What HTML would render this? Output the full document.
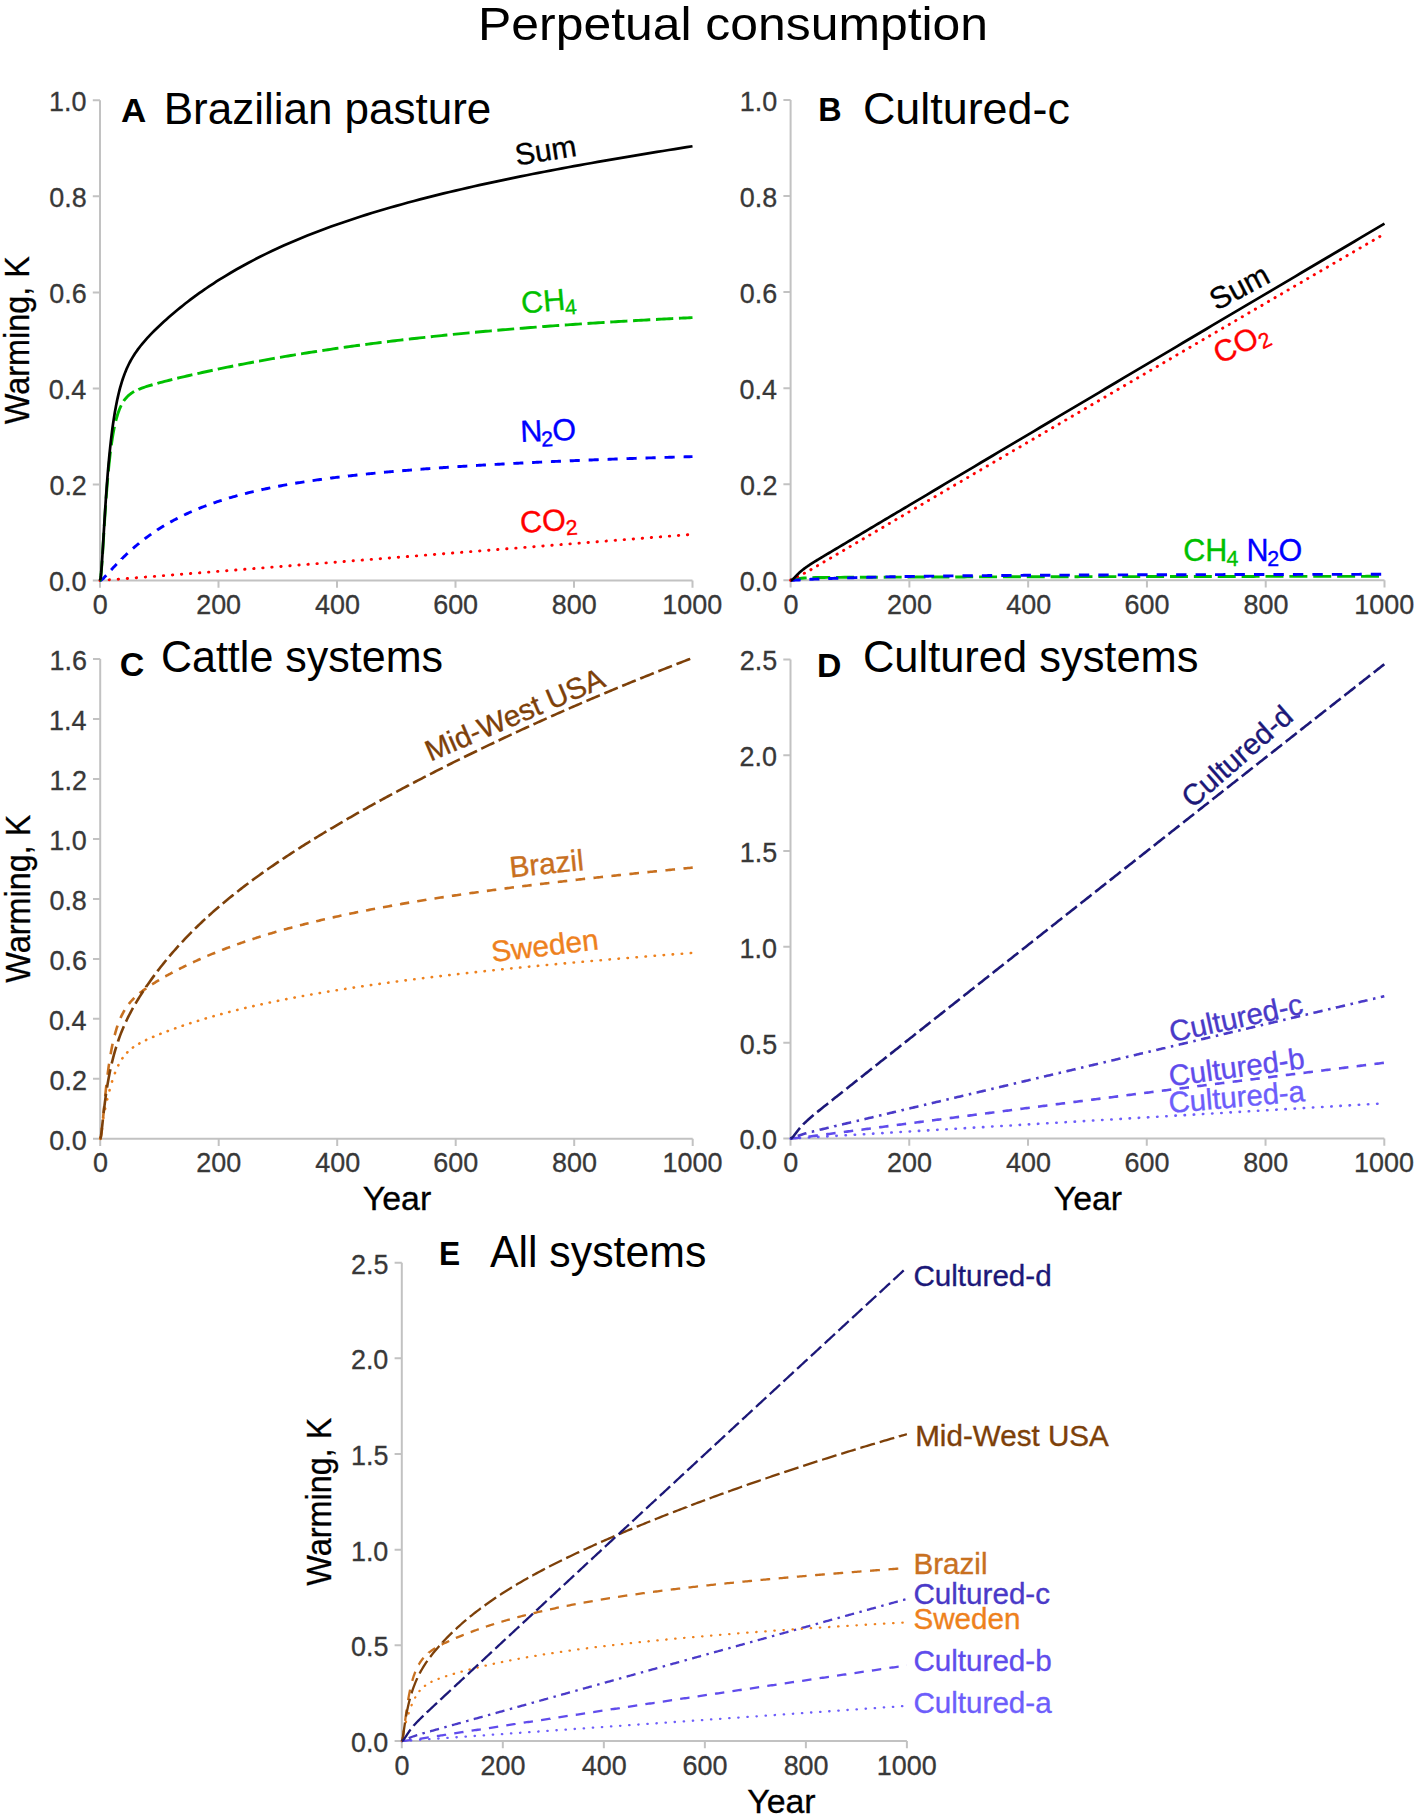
<!DOCTYPE html>
<html lang="en"><head><meta charset="utf-8"><title>Perpetual consumption</title>
<style>html,body{margin:0;padding:0;background:#fff}svg{display:block}text{white-space:pre}</style>
</head><body>
<svg width="1418" height="1818" viewBox="0 0 1418 1818" role="img" aria-label="Perpetual consumption: warming over time for cattle and cultured meat systems">
<rect width="1418" height="1818" fill="#fff"/>
<path d="M100 100.3 V580.5 H692.5 M92.8 580.5 H100 M92.8 484.46 H100 M92.8 388.42 H100 M92.8 292.38 H100 M92.8 196.34 H100 M92.8 100.3 H100 M100 580.5 V587.7 M218.5 580.5 V587.7 M337 580.5 V587.7 M455.5 580.5 V587.7 M574 580.5 V587.7 M692.5 580.5 V587.7" fill="none" stroke="#c2c2c2" stroke-width="2"/>
<path d="M100 580.5 100.06 580.49 100.12 580.47 100.18 580.46 100.24 580.45 100.3 580.44 100.34 580.43M109.07 579.84 109.12 579.84 109.18 579.83 109.24 579.83 109.3 579.83 109.36 579.82 109.42 579.82 109.45 579.82M118.15 579.19 118.19 579.19 118.25 579.18 118.31 579.18 118.37 579.17 118.43 579.17 118.49 579.17 118.53 579.16M127.19 578.49 127.2 578.49 127.25 578.49 127.31 578.48 127.37 578.48 127.43 578.47 127.49 578.47 127.55 578.46 127.57 578.46M136.23 577.79 136.26 577.78 136.32 577.78 136.38 577.77 136.44 577.77 136.5 577.76 136.56 577.76 136.61 577.76M145.26 577.08 145.27 577.08 145.33 577.07 145.39 577.07 145.44 577.06 145.5 577.06 145.56 577.05 145.62 577.05 145.64 577.05M154.3 576.37 154.51 576.35 154.67 576.34M163.33 575.66 163.4 575.66 163.69 575.63 163.7 575.63M172.36 574.95 172.58 574.93 172.74 574.92M181.39 574.24 181.47 574.24 181.76 574.21 181.77 574.21M190.43 573.54 190.65 573.52 190.8 573.51M199.46 572.83 199.54 572.82 199.84 572.8 199.84 572.8M208.5 572.12 208.72 572.1 208.87 572.09M217.53 571.41 217.61 571.4 217.91 571.38M226.56 570.7 226.8 570.69 226.94 570.67M235.6 570 235.68 569.99 235.97 569.97M244.63 569.29 244.87 569.27 245.01 569.26M253.66 568.58 253.75 568.57 254.04 568.55M262.7 567.87 262.94 567.85 263.07 567.84M271.73 567.17 271.82 567.16 272.11 567.14M280.77 566.46 281.01 566.44 281.14 566.43M289.8 565.75 289.9 565.74 290.18 565.72M298.84 565.04 299.08 565.03 299.21 565.02M307.87 564.34 307.97 564.33 308.25 564.31M316.9 563.63 317.15 563.61 317.28 563.6M325.94 562.92 326.04 562.92 326.32 562.89M334.97 562.22 335.22 562.2 335.35 562.19M344.01 561.51 344.11 561.5 344.39 561.48M353.04 560.8 353.29 560.79 353.42 560.78M362.08 560.1 362.18 560.09 362.46 560.07M371.11 559.39 371.37 559.37 371.49 559.36M380.15 558.69 380.25 558.68 380.53 558.66M389.18 557.98 389.44 557.96 389.56 557.95M398.22 557.27 398.32 557.27 398.6 557.24M407.25 556.57 407.51 556.55 407.63 556.54M416.29 555.86 416.39 555.85 416.67 555.83M425.33 555.16 425.58 555.14 425.7 555.13M434.36 554.45 434.47 554.44 434.74 554.42M443.4 553.75 443.65 553.73 443.77 553.72M452.43 553.04 452.54 553.03 452.81 553.01M461.47 552.34 461.72 552.32 461.84 552.31M470.5 551.63 470.61 551.62 470.88 551.6M479.54 550.93 479.79 550.91 479.92 550.9M488.58 550.22 488.68 550.21 488.95 550.19M497.61 549.52 497.86 549.5 497.99 549.49M506.65 548.81 506.75 548.8 507.03 548.78M515.69 548.11 515.93 548.09 516.06 548.08M524.72 547.4 524.82 547.39 525.1 547.37M533.76 546.7 534.01 546.68 534.13 546.67M542.79 545.99 542.89 545.99 543.17 545.96M551.83 545.29 552.08 545.27 552.21 545.26M560.87 544.59 560.96 544.58 561.24 544.56M569.9 543.88 570.15 543.86 570.28 543.85M578.94 543.18 579.04 543.17 579.32 543.15M587.98 542.47 588.22 542.45 588.36 542.44M597.02 541.77 597.11 541.76 597.39 541.74M606.05 541.07 606.29 541.05 606.43 541.04M615.09 540.36 615.18 540.36 615.47 540.33M624.13 539.66 624.36 539.64 624.5 539.63M633.16 538.96 633.25 538.95 633.54 538.93M642.2 538.25 642.43 538.23 642.58 538.22M651.24 537.55 651.32 537.54 651.62 537.52M660.28 536.85 660.5 536.83 660.65 536.82M669.32 536.14 669.39 536.14 669.69 536.11 669.69 536.11M678.35 535.44 678.58 535.42 678.73 535.41M687.39 534.74 687.46 534.73 687.76 534.71 687.77 534.71" fill="none" stroke="#ff0000" stroke-width="2.9" stroke-linejoin="round" stroke-linecap="round"/>
<path d="M100 580.5 100.06 580.5 101.07 580.19 102.07 579.51 103.08 578.62 104.09 577.61 105.1 576.54 106.1 575.45 106.24 575.3M111.09 569.99 111.14 569.94 112.03 568.98 112.92 568.03 113.81 567.08 114.69 566.14 115.58 565.21 116.47 564.28 116.72 564.02M121.74 558.92 121.74 558.91 122.69 557.97 123.64 557.05 124.59 556.13 125.54 555.22 126.48 554.32 127.43 553.43 127.61 553.26M132.89 548.49 132.94 548.45 133.95 547.57 134.96 546.7 135.96 545.85 136.97 545 137.98 544.17 138.99 543.35 139.1 543.25M144.69 538.87 144.73 538.83 145.27 538.43 145.8 538.03 146.33 537.63 146.87 537.24 147.4 536.85 150.07 534.92 151.26 534.08M157.17 530.09 157.18 530.08 158.36 529.31 159.55 528.56 160.73 527.81 161.92 527.08 163.1 526.35 164.1 525.75M170.32 522.15 170.51 522.04 171.69 521.38 172.88 520.74 174.06 520.1 175.25 519.47 176.43 518.85 177.6 518.24M184.11 515.02 184.13 515.01 185.32 514.44 186.5 513.89 187.69 513.34 188.88 512.8 190.06 512.27 191.25 511.74 191.73 511.53M198.53 508.66 198.65 508.61 199.84 508.13 201.02 507.65 202.21 507.19 203.39 506.73 204.58 506.27 205.76 505.82 206.45 505.56M213.51 503.02 213.76 502.93 214.94 502.52 216.13 502.12 217.31 501.72 218.5 501.32 219.69 500.94 220.87 500.55 221.72 500.28M229.02 498.03 229.16 497.98 230.35 497.63 231.53 497.29 232.72 496.95 233.91 496.61 235.09 496.28 236.28 495.95 237.46 495.62 237.49 495.61M245 493.63 245.16 493.59 246.35 493.29 247.53 492.99 248.72 492.69 249.9 492.4 251.09 492.12 252.27 491.83 253.46 491.55 253.7 491.5M261.4 489.75 261.46 489.73 262.94 489.41 264.42 489.09 265.9 488.78 267.38 488.46 268.86 488.16 270.29 487.87M278.15 486.32 278.34 486.28 279.82 486 281.31 485.73 282.79 485.45 284.27 485.18 285.75 484.92 287.22 484.66M295.23 483.29 295.23 483.29 296.71 483.04 298.19 482.8 299.67 482.56 301.15 482.32 302.63 482.09 304.12 481.86 304.45 481.81M312.57 480.59 312.71 480.57 314.19 480.36 315.67 480.14 317.15 479.93 318.63 479.73 320.11 479.52 321.6 479.32 321.92 479.27M330.15 478.19 330.19 478.18 331.67 477.99 333.15 477.8 334.63 477.62 336.11 477.43 337.59 477.25 339.07 477.07 339.61 477.01M347.92 476.03 347.96 476.02 349.44 475.86 350.92 475.69 352.4 475.52 353.89 475.36 355.37 475.2 356.85 475.04 357.47 474.97M365.87 474.09 366.03 474.07 367.51 473.92 369 473.77 370.48 473.62 371.96 473.47 373.44 473.33 374.92 473.18 375.5 473.12M383.96 472.32 384.1 472.31 385.58 472.17 387.07 472.04 388.55 471.9 390.03 471.77 391.51 471.64 392.99 471.51 393.66 471.45M402.18 470.72 402.47 470.69 403.95 470.57 405.43 470.45 406.92 470.33 408.4 470.21 409.88 470.09 411.36 469.97 411.94 469.92M420.5 469.25 420.54 469.25 422.02 469.14 423.5 469.02 424.99 468.91 426.47 468.8 427.95 468.69 429.43 468.58 430.31 468.52M438.92 467.9 439.21 467.88 440.69 467.78 442.17 467.68 443.65 467.57 445.13 467.47 446.61 467.37 448.09 467.27 448.78 467.23M457.43 466.66 457.57 466.65 459.06 466.55 460.54 466.46 462.02 466.36 463.5 466.27 464.98 466.18 466.46 466.08 467.33 466.03M476 465.5 476.24 465.49 477.72 465.4 479.2 465.31 480.68 465.23 482.16 465.14 483.64 465.06 485.12 464.97 485.94 464.92M494.65 464.43 494.9 464.42 496.38 464.34 497.86 464.26 499.35 464.18 500.83 464.1 502.31 464.02 503.79 463.94 504.61 463.89M513.35 463.44 513.57 463.42 515.05 463.35 516.53 463.27 518.01 463.2 519.49 463.12 520.97 463.05 522.45 462.98 523.35 462.93M532.1 462.5 532.23 462.5 533.71 462.43 535.19 462.36 536.67 462.29 538.15 462.22 539.63 462.15 541.12 462.08 542.13 462.03M550.91 461.63 551.19 461.62 552.67 461.56 554.15 461.49 555.63 461.42 557.11 461.36 558.6 461.29 560.08 461.23 560.95 461.19M569.75 460.82 569.85 460.81 571.33 460.75 572.82 460.69 574.3 460.63 575.78 460.57 577.26 460.51 578.74 460.45 579.82 460.4M588.64 460.05 588.81 460.05 590.29 459.99 591.77 459.93 593.26 459.87 594.74 459.82 596.22 459.76 597.7 459.7 598.73 459.66M607.57 459.33 607.77 459.33 609.25 459.27 610.74 459.22 612.22 459.16 613.7 459.11 615.18 459.06 616.66 459 617.67 458.97M626.53 458.66 626.73 458.65 628.21 458.6 629.7 458.55 631.18 458.5 632.66 458.45 634.14 458.4 635.62 458.35 636.65 458.31M645.52 458.02 645.69 458.02 647.17 457.97 648.65 457.92 650.14 457.87 651.62 457.83 653.1 457.78 654.58 457.73 655.66 457.7M664.54 457.42 664.65 457.42 666.13 457.37 667.62 457.33 669.1 457.29 670.58 457.24 672.06 457.2 673.54 457.15 674.69 457.12M683.59 456.86 683.61 456.86 685.09 456.82 686.58 456.77 688.06 456.73 689.54 456.69 691.02 456.65 692.5 456.61" fill="none" stroke="#0000ff" stroke-width="2.9" stroke-linejoin="round"/>
<path d="M100 580.5 100.06 580.48 100.36 579.7 100.65 577.98 100.95 575.48 101.24 572.36 101.54 568.75 101.84 564.74 102.12 560.65M102.56 553.83 102.61 553.13 102.78 550.3 102.96 547.43 103.14 544.55 103.32 541.65 103.5 538.75 103.67 535.85 103.85 532.96 103.85 532.94M104.28 526.1 104.33 525.33 104.5 522.51 104.68 519.72 104.86 516.96 105.04 514.24 105.21 511.56 105.39 508.91 105.57 506.31 105.64 505.3M106.12 498.52 106.16 497.94 106.4 494.73 106.64 491.6 106.87 488.55 107.11 485.59 107.35 482.7 107.58 479.89 107.74 478.05M108.34 471.43 108.35 471.31 108.71 467.62 109.07 464.1 109.42 460.73 109.78 457.51 110.13 454.44 110.48 451.6M111.31 445.26 111.32 445.2 111.85 441.49 112.38 438.04 112.92 434.83 113.45 431.83 113.98 429.04 114.46 426.7M115.78 420.97 115.82 420.81 116.71 417.49 117.6 414.52 118.49 411.88 119.37 409.51 120.26 407.4 121.15 405.5 121.25 405.31M123.73 401.03 123.76 400.98 125.48 398.67 127.2 396.75 128.91 395.15 130.63 393.79 132.35 392.62 134.07 391.6 134.14 391.56M138.4 389.5 138.45 389.47 140.11 388.79 141.77 388.16 143.43 387.57 145.09 387 146.75 386.47 152.44 384.75 152.57 384.71M157.39 383.37 157.47 383.34 159.84 382.7 162.21 382.08 164.58 381.46 166.95 380.85 169.32 380.26 171.69 379.66 172.31 379.51M177.24 378.3 177.32 378.28 179.69 377.71 182.06 377.15 184.43 376.59 186.8 376.03 189.17 375.48 191.54 374.93 192.39 374.74M197.39 373.61 197.47 373.59 199.84 373.06 202.21 372.53 204.58 372.01 206.95 371.49 209.32 370.98 211.69 370.47 212.7 370.25M217.75 369.19 217.91 369.15 220.28 368.66 222.65 368.16 225.02 367.68 227.39 367.19 229.76 366.71 232.13 366.24 233.21 366.02M238.31 365.01 238.35 365 240.72 364.54 243.09 364.08 245.46 363.62 247.83 363.17 250.2 362.72 252.57 362.27 253.91 362.02M259.05 361.06 259.09 361.06 261.75 360.57 264.42 360.09 267.09 359.61 269.75 359.13 272.42 358.66 274.79 358.24M279.97 357.34 280.12 357.32 282.79 356.86 285.45 356.41 288.12 355.96 290.78 355.51 293.45 355.07 295.84 354.68M301.06 353.83 301.15 353.82 303.82 353.39 306.49 352.97 309.15 352.55 311.82 352.13 314.49 351.72 317.06 351.32M322.32 350.52 322.48 350.5 325.15 350.1 327.82 349.7 330.48 349.31 333.15 348.92 335.81 348.53 338.43 348.16M343.73 347.41 343.81 347.4 346.48 347.02 349.15 346.65 351.81 346.28 354.48 345.92 357.14 345.56 359.81 345.2 359.95 345.18M365.28 344.48 365.44 344.46 368.11 344.11 370.77 343.76 373.44 343.42 376.11 343.08 378.77 342.74 381.44 342.41 381.61 342.39M386.98 341.72 387.07 341.71 389.73 341.39 392.4 341.06 395.06 340.74 397.73 340.43 400.4 340.11 403.06 339.8 403.41 339.76M408.81 339.13 408.99 339.11 411.65 338.81 414.32 338.51 416.99 338.21 419.65 337.91 422.32 337.62 424.99 337.33 425.33 337.29M430.76 336.71 430.91 336.69 433.58 336.41 436.24 336.12 438.91 335.85 441.58 335.57 444.24 335.3 446.91 335.02 447.38 334.98M452.84 334.43 453.13 334.4 455.8 334.13 458.46 333.87 461.13 333.61 463.8 333.35 466.46 333.1 469.13 332.84 469.54 332.8M475.03 332.29 475.05 332.29 477.72 332.04 480.38 331.8 483.05 331.55 485.72 331.31 488.38 331.07 491.05 330.84 491.82 330.77M497.33 330.29 497.57 330.27 500.23 330.04 502.9 329.81 505.57 329.58 508.23 329.36 510.9 329.14 513.57 328.92 514.19 328.86M519.73 328.41 519.79 328.41 522.45 328.19 525.12 327.98 527.79 327.77 530.45 327.56 533.12 327.35 535.78 327.15 536.66 327.08M542.23 326.66 542.3 326.65 544.97 326.45 547.63 326.25 550.3 326.06 552.97 325.86 555.63 325.67 558.3 325.48 559.23 325.41M564.81 325.02 564.82 325.02 567.48 324.83 570.15 324.64 572.82 324.46 575.48 324.28 578.15 324.1 580.81 323.92 581.88 323.85M587.48 323.48 587.63 323.47 590.29 323.3 592.96 323.13 595.63 322.95 598.29 322.79 600.96 322.62 603.62 322.45 604.61 322.39M610.24 322.04 610.44 322.03 613.11 321.87 615.77 321.71 618.44 321.55 621.1 321.39 623.77 321.24 626.44 321.08 627.42 321.03M633.06 320.7 633.25 320.69 635.92 320.54 638.58 320.39 641.25 320.25 643.91 320.1 646.58 319.95 649.25 319.81 650.3 319.75M655.96 319.45 656.06 319.45 658.73 319.31 661.39 319.17 664.06 319.03 666.73 318.89 669.39 318.76 672.06 318.62 673.25 318.56M678.93 318.28 679.17 318.27 681.24 318.17 683.32 318.07 685.39 317.97 687.46 317.87 689.54 317.77 691.61 317.67 692.5 317.63" fill="none" stroke="#00c000" stroke-width="2.9" stroke-linejoin="round"/>
<path d="M100 580.5 L100.59 578.29 L101.19 572.68 L101.78 564.91 L102.37 555.84 L102.96 546.08 L103.56 536.08 L104.15 526.12 L104.74 516.39 L105.33 507.01 L105.92 498.07 L106.52 489.59 L107.11 481.58 L107.7 474.05 L108.3 466.97 L108.89 460.34 L109.48 454.11 L110.07 448.27 L110.66 442.79 L111.26 437.65 L111.85 432.82 L112.44 428.27 L113.03 424 L113.63 419.97 L114.22 416.17 L114.81 412.58 L115.41 409.19 L116 405.99 L116.59 402.95 L117.18 400.07 L117.78 397.34 L118.37 394.75 L118.96 392.29 L119.55 389.95 L120.14 387.72 L120.74 385.59 L121.33 383.57 L121.92 381.63 L122.52 379.78 L123.11 378.01 L123.7 376.32 L124.29 374.7 L124.89 373.14 L125.48 371.64 L126.07 370.21 L126.66 368.82 L127.25 367.49 L127.85 366.21 L128.44 364.97 L129.03 363.77 L129.62 362.61 L130.22 361.49 L130.81 360.4 L131.4 359.35 L132 358.32 L132.59 357.32 L133.18 356.35 L133.77 355.41 L134.37 354.48 L134.96 353.58 L135.55 352.7 L137.92 349.36 L140.29 346.26 L142.66 343.34 L145.03 340.58 L147.4 337.93 L149.77 335.39 L152.14 332.93 L154.51 330.54 L156.88 328.21 L159.25 325.93 L161.62 323.71 L163.99 321.53 L166.36 319.39 L168.73 317.29 L171.1 315.23 L173.47 313.2 L175.84 311.21 L178.21 309.25 L180.58 307.33 L182.95 305.43 L185.32 303.56 L187.69 301.73 L190.06 299.92 L192.43 298.14 L194.8 296.39 L197.17 294.66 L199.54 292.96 L201.91 291.29 L204.28 289.64 L206.65 288.01 L209.02 286.41 L211.39 284.83 L213.76 283.28 L216.13 281.74 L218.5 280.23 L224.43 276.54 L230.35 272.97 L236.28 269.53 L242.2 266.2 L248.12 262.97 L254.05 259.85 L259.98 256.82 L265.9 253.89 L271.82 251.04 L277.75 248.28 L283.68 245.59 L289.6 242.99 L295.52 240.45 L301.45 237.99 L307.38 235.59 L313.3 233.25 L319.23 230.97 L325.15 228.76 L331.07 226.59 L337 224.48 L342.93 222.42 L348.85 220.41 L354.77 218.45 L360.7 216.53 L366.62 214.65 L372.55 212.81 L378.48 211.01 L384.4 209.25 L390.32 207.53 L396.25 205.84 L402.18 204.19 L408.1 202.56 L414.02 200.97 L419.95 199.41 L425.88 197.87 L431.8 196.36 L437.73 194.88 L443.65 193.43 L449.57 191.99 L455.5 190.58 L461.43 189.2 L467.35 187.83 L473.27 186.49 L479.2 185.17 L485.12 183.86 L491.05 182.58 L496.98 181.31 L502.9 180.06 L508.82 178.82 L514.75 177.61 L520.67 176.4 L526.6 175.21 L532.52 174.04 L538.45 172.88 L544.38 171.73 L550.3 170.6 L556.23 169.48 L562.15 168.37 L568.08 167.27 L574 166.18 L579.92 165.11 L585.85 164.04 L591.77 162.98 L597.7 161.94 L603.62 160.9 L609.55 159.87 L615.48 158.85 L621.4 157.84 L627.33 156.83 L633.25 155.83 L639.17 154.84 L645.1 153.86 L651.02 152.89 L656.95 151.92 L662.88 150.96 L668.8 150 L674.73 149.05 L680.65 148.1 L686.58 147.17 L692.5 146.23" fill="none" stroke="#000" stroke-width="2.7" stroke-linejoin="round"/>
<path d="M790.6 100 V580.3 H1384.5 M783.4 580.3 H790.6 M783.4 484.24 H790.6 M783.4 388.18 H790.6 M783.4 292.12 H790.6 M783.4 196.06 H790.6 M783.4 100 H790.6 M790.6 580.3 V587.5 M909.38 580.3 V587.5 M1028.16 580.3 V587.5 M1146.94 580.3 V587.5 M1265.72 580.3 V587.5 M1384.5 580.3 V587.5" fill="none" stroke="#c2c2c2" stroke-width="2"/>
<path d="M790.6 580.3 790.66 580.3 793.33 579.86 796 579.21 798.68 578.69 801.35 578.31 804.02 578.05 806.65 577.86M812.36 577.63 812.4 577.63 815.37 577.56 818.34 577.5 821.3 577.47 824.27 577.44 827.24 577.41 830.18 577.39M836.05 577.36 836.09 577.36 836.92 577.36 837.76 577.35 840.49 577.34 844.64 577.32 848.8 577.31 852.96 577.29 853.99 577.28M859.87 577.26 860.09 577.26 863.06 577.25 866.03 577.24 868.99 577.23 871.96 577.22 874.93 577.21 877.82 577.2M883.7 577.18 883.84 577.18 886.81 577.16 889.78 577.15 892.75 577.14 895.72 577.13 898.69 577.13 901.65 577.12M907.54 577.1 907.6 577.1 910.57 577.09 913.54 577.08 916.51 577.07 919.48 577.06 922.45 577.05 925.42 577.04 925.49 577.04M931.38 577.02 931.65 577.02 934.62 577.01 937.59 577 940.56 577 943.53 576.99 946.5 576.98 949.34 576.97M955.22 576.96 955.41 576.95 958.38 576.95 961.35 576.94 964.32 576.93 967.29 576.92 970.25 576.92 973.19 576.91M979.07 576.89 979.16 576.89 982.13 576.88 985.1 576.88 988.07 576.87 991.04 576.86 994.01 576.86 996.98 576.85 997.04 576.85M1002.93 576.83 1003.22 576.83 1006.19 576.83 1009.16 576.82 1012.12 576.81 1015.09 576.81 1018.06 576.8 1020.89 576.79M1026.78 576.78 1026.97 576.78 1029.94 576.77 1032.91 576.77 1035.88 576.76 1038.85 576.75 1041.82 576.75 1044.75 576.74M1050.64 576.73 1050.73 576.73 1053.7 576.72 1056.67 576.72 1059.64 576.71 1062.61 576.71 1065.58 576.7 1068.55 576.69 1068.62 576.69M1074.51 576.68 1074.78 576.68 1077.75 576.68 1080.72 576.67 1083.69 576.67 1086.66 576.66 1089.63 576.66 1092.48 576.65M1098.37 576.64 1098.54 576.64 1101.51 576.63 1104.48 576.63 1107.45 576.62 1110.42 576.62 1113.38 576.61 1116.35 576.61M1122.24 576.6 1122.29 576.6 1125.26 576.59 1128.23 576.59 1131.2 576.59 1134.17 576.58 1137.14 576.58 1140.11 576.57 1140.22 576.57M1146.11 576.56 1146.35 576.56 1149.32 576.56 1152.29 576.55 1155.25 576.55 1158.22 576.54 1161.19 576.54 1164.09 576.54M1169.98 576.53 1170.1 576.53 1173.07 576.52 1176.04 576.52 1179.01 576.52 1181.98 576.51 1184.95 576.51 1187.92 576.5 1187.96 576.5M1193.86 576.5 1193.86 576.5 1196.83 576.49 1199.8 576.49 1202.77 576.48 1205.74 576.48 1208.71 576.48 1211.68 576.47 1211.84 576.47M1217.73 576.47 1217.91 576.47 1220.88 576.46 1223.85 576.46 1226.82 576.46 1229.79 576.45 1232.76 576.45 1235.72 576.45M1241.61 576.44 1241.67 576.44 1244.64 576.44 1247.61 576.43 1250.58 576.43 1253.55 576.43 1256.51 576.42 1259.48 576.42 1259.6 576.42M1265.49 576.41 1265.72 576.41 1268.69 576.41 1271.66 576.41 1274.63 576.4 1277.6 576.4 1280.57 576.4 1283.48 576.4M1289.37 576.39 1289.48 576.39 1292.45 576.39 1295.41 576.38 1298.38 576.38 1301.35 576.38 1304.32 576.38 1307.29 576.37 1307.36 576.37M1313.25 576.37 1313.53 576.37 1316.5 576.36 1319.47 576.36 1322.44 576.36 1325.41 576.36 1328.38 576.35 1331.24 576.35M1337.14 576.35 1337.28 576.35 1340.25 576.34 1343.22 576.34 1346.19 576.34 1349.16 576.34 1352.13 576.33 1355.1 576.33 1355.13 576.33M1361.02 576.33 1361.04 576.33 1364.01 576.33 1366.98 576.32 1369.95 576.32 1372.92 576.32 1375.89 576.32 1378.86 576.31 1379.01 576.31" fill="none" stroke="#00c000" stroke-width="2.9" stroke-linejoin="round"/>
<path d="M790.6 580.3 790.66 580.3 792.32 580.27 793.99 580.19 795.65 580.11 797.31 580.02 798.97 579.93 800.64 579.85 800.64 579.85M809.38 579.4 809.43 579.4 811.09 579.32 812.75 579.24 814.42 579.16 816.08 579.08 817.74 579 819.4 578.93M828.2 578.56 828.25 578.55 829.86 578.49 831.46 578.43 833.06 578.37 834.67 578.31 836.27 578.25 837.87 578.19 838.3 578.18M847.16 577.88 847.32 577.87 848.8 577.83 850.29 577.78 851.77 577.73 853.26 577.69 854.74 577.65 856.23 577.6 857.32 577.57M866.23 577.33 866.32 577.33 867.81 577.29 869.29 577.26 870.78 577.22 872.26 577.19 873.75 577.15 875.23 577.12 876.43 577.09M885.38 576.89 885.62 576.89 887.11 576.86 888.59 576.83 890.08 576.8 891.56 576.77 893.05 576.74 894.53 576.72 895.62 576.7M904.59 576.54 904.63 576.54 906.11 576.51 907.6 576.49 909.08 576.46 910.57 576.44 912.05 576.42 913.54 576.39 914.86 576.37M923.85 576.24 923.93 576.24 925.42 576.22 926.9 576.2 928.38 576.18 929.87 576.16 931.35 576.14 932.84 576.12 934.15 576.11M943.16 576 943.23 576 944.72 575.98 946.2 575.96 947.69 575.95 949.17 575.93 950.66 575.92 952.14 575.9 953.47 575.89M962.5 575.79 962.53 575.79 964.02 575.78 965.5 575.77 966.99 575.75 968.47 575.74 969.96 575.72 971.44 575.71 972.82 575.7M981.86 575.62 982.13 575.62 983.62 575.61 985.1 575.59 986.59 575.58 988.07 575.57 989.56 575.56 991.04 575.55 992.19 575.54M1001.24 575.47 1001.43 575.47 1002.92 575.46 1004.4 575.45 1005.89 575.44 1007.37 575.43 1008.86 575.42 1010.34 575.41 1011.58 575.4M1020.63 575.34 1020.74 575.34 1022.22 575.33 1023.71 575.32 1025.19 575.31 1026.68 575.3 1028.16 575.29 1029.64 575.29 1030.98 575.28M1040.04 575.23 1040.33 575.22 1041.82 575.22 1043.3 575.21 1044.79 575.2 1046.27 575.19 1047.76 575.18 1049.24 575.18 1050.4 575.17M1059.46 575.13 1059.64 575.12 1061.12 575.12 1062.61 575.11 1064.09 575.1 1065.58 575.1 1067.06 575.09 1068.55 575.08 1069.82 575.08M1078.89 575.04 1078.94 575.04 1080.42 575.03 1081.91 575.02 1083.39 575.02 1084.88 575.01 1086.36 575 1087.85 575 1089.25 574.99M1098.32 574.95 1098.54 574.95 1100.02 574.95 1101.51 574.94 1102.99 574.94 1104.48 574.93 1105.96 574.92 1107.45 574.92 1108.69 574.91M1117.76 574.88 1117.84 574.88 1119.32 574.88 1120.81 574.87 1122.29 574.86 1123.78 574.86 1125.26 574.85 1126.75 574.85 1128.14 574.84M1137.21 574.81 1137.44 574.81 1138.92 574.81 1140.41 574.8 1141.89 574.8 1143.38 574.79 1144.86 574.79 1146.35 574.78 1147.58 574.78M1156.66 574.75 1156.74 574.75 1158.22 574.75 1159.71 574.74 1161.19 574.74 1162.68 574.73 1164.16 574.73 1165.65 574.73 1167.04 574.72M1176.12 574.7 1176.34 574.7 1177.82 574.69 1179.31 574.69 1180.79 574.68 1182.28 574.68 1183.76 574.68 1185.25 574.67 1186.49 574.67M1195.58 574.64 1195.64 574.64 1197.12 574.64 1198.61 574.64 1200.09 574.63 1201.58 574.63 1203.06 574.63 1204.55 574.62 1205.95 574.62M1215.04 574.6 1215.24 574.6 1216.72 574.59 1218.21 574.59 1219.69 574.58 1221.18 574.58 1222.66 574.58 1224.15 574.57 1225.42 574.57M1234.5 574.55 1234.54 574.55 1236.03 574.55 1237.51 574.54 1238.99 574.54 1240.48 574.54 1241.96 574.53 1243.45 574.53 1244.88 574.53M1253.97 574.51 1254.14 574.51 1255.62 574.51 1257.11 574.5 1258.59 574.5 1260.08 574.5 1261.56 574.49 1263.05 574.49 1264.35 574.49M1273.44 574.47 1273.44 574.47 1274.93 574.47 1276.41 574.46 1277.89 574.46 1279.38 574.46 1280.86 574.46 1282.35 574.45 1283.82 574.45M1292.91 574.43 1293.04 574.43 1294.52 574.43 1296.01 574.43 1297.49 574.42 1298.98 574.42 1300.46 574.42 1301.95 574.42 1303.29 574.41M1312.38 574.4 1312.64 574.4 1314.12 574.4 1315.61 574.39 1317.09 574.39 1318.58 574.39 1320.06 574.39 1321.55 574.38 1322.77 574.38M1331.85 574.37 1331.94 574.37 1333.42 574.36 1334.91 574.36 1336.39 574.36 1337.88 574.36 1339.36 574.35 1340.85 574.35 1342.24 574.35M1351.33 574.34 1351.54 574.34 1353.02 574.33 1354.51 574.33 1355.99 574.33 1357.48 574.33 1358.96 574.33 1360.45 574.32 1361.72 574.32M1370.81 574.31 1370.84 574.31 1372.33 574.31 1373.81 574.3 1375.29 574.3 1376.78 574.3 1378.26 574.3 1379.75 574.3 1381.19 574.29" fill="none" stroke="#0000ff" stroke-width="2.9" stroke-linejoin="round"/>
<path d="M790.6 580.3 790.66 580.21 790.72 580.12 790.78 580.04 790.78 580.03M797.34 576.73 797.37 576.72 797.43 576.69 797.49 576.67 797.55 576.64 797.61 576.61 797.64 576.6M804.22 573.32 804.26 573.3 804.32 573.27 804.38 573.23 804.44 573.2 804.5 573.17M810.84 569.6 810.85 569.59 810.91 569.56 810.97 569.53 811.03 569.49 811.09 569.46 811.11 569.44M817.4 565.79 817.44 565.77 817.5 565.73 817.56 565.7 817.62 565.66 817.67 565.63M823.93 561.96 823.98 561.94 824.04 561.9 824.1 561.87 824.16 561.83 824.2 561.8M830.46 558.13 830.51 558.1 830.57 558.06 830.63 558.03 830.69 557.99 830.73 557.97M836.99 554.29 837.04 554.26 837.1 554.22 837.16 554.19 837.22 554.15 837.26 554.13M843.52 550.45 843.75 550.31 843.79 550.29M850.05 546.61 850.29 546.47 850.32 546.45M856.58 542.77 856.82 542.63 856.85 542.61M863.11 538.94 863.35 538.79 863.38 538.78M869.64 535.1 869.89 534.95 869.91 534.94M876.17 531.26 876.42 531.11 876.44 531.1M882.7 527.42 882.95 527.27 882.97 527.26M889.23 523.59 889.48 523.43 889.5 523.43M895.76 519.75 896.02 519.6 896.03 519.59M902.29 515.91 902.55 515.76 902.56 515.75M908.82 512.08 909.08 511.92 909.09 511.92M915.35 508.24 915.62 508.08 915.62 508.08M921.88 504.4 922.15 504.25 922.16 504.24M928.41 500.57 928.68 500.41 928.69 500.41M934.95 496.73 935.21 496.58 935.22 496.57M941.48 492.9 941.75 492.74 941.75 492.74M948.01 489.06 948.28 488.91 948.28 488.9M954.54 485.23 954.81 485.07 954.82 485.07M961.08 481.4 961.35 481.24 961.35 481.24M967.61 477.56 967.88 477.4 967.88 477.4M974.14 473.73 974.41 473.57 974.42 473.57M980.68 469.9 980.94 469.74 980.95 469.74M987.21 466.06 987.48 465.91 987.48 465.9M993.74 462.23 994.01 462.08 994.02 462.07M1000.28 458.4 1000.54 458.24 1000.55 458.24M1006.81 454.57 1007.08 454.41 1007.09 454.41M1013.35 450.74 1013.61 450.58 1013.62 450.58M1019.88 446.9 1020.14 446.75 1020.16 446.74M1026.42 443.07 1026.68 442.92 1026.69 442.91M1032.95 439.24 1033.21 439.09 1033.23 439.08M1039.49 435.41 1039.74 435.26 1039.76 435.25M1046.03 431.58 1046.27 431.44 1046.3 431.42M1052.56 427.75 1052.81 427.61 1052.83 427.59M1059.1 423.92 1059.34 423.78 1059.37 423.76M1065.63 420.09 1065.87 419.95 1065.91 419.93M1072.17 416.26 1072.41 416.13 1072.44 416.1M1078.71 412.44 1078.94 412.3 1078.98 412.28M1085.25 408.61 1085.47 408.47 1085.52 408.45M1091.78 404.78 1092 404.65 1092.06 404.62M1098.32 400.95 1098.54 400.82 1098.59 400.79M1104.86 397.12 1105.07 397 1105.13 396.96M1111.4 393.3 1111.6 393.17 1111.67 393.14M1117.93 389.47 1118.14 389.35 1118.21 389.31M1124.47 385.64 1124.67 385.53 1124.75 385.48M1131.01 381.82 1131.2 381.7 1131.28 381.66M1137.55 377.99 1137.73 377.88 1137.82 377.83M1144.09 374.16 1144.27 374.06 1144.36 374M1150.63 370.34 1150.8 370.24 1150.9 370.18M1157.17 366.51 1157.33 366.42 1157.44 366.35M1163.71 362.69 1163.87 362.6 1163.98 362.53M1170.25 358.86 1170.4 358.78 1170.52 358.7M1176.79 355.04 1176.93 354.96 1177.06 354.88M1183.33 351.21 1183.46 351.14 1183.6 351.06M1189.87 347.39 1190 347.32 1190.14 347.23M1196.41 343.57 1196.53 343.5 1196.69 343.41M1202.95 339.74 1203.06 339.68 1203.23 339.58M1209.5 335.92 1209.6 335.86 1209.77 335.76M1216.04 332.1 1216.13 332.04 1216.31 331.94M1222.58 328.28 1222.66 328.23 1222.85 328.12M1229.12 324.45 1229.2 324.41 1229.4 324.29M1235.67 320.63 1235.73 320.59 1235.94 320.47M1242.21 316.81 1242.26 316.78 1242.48 316.65M1248.75 312.99 1248.79 312.96 1249.02 312.83M1255.29 309.17 1255.33 309.15 1255.57 309.01M1261.84 305.35 1261.86 305.33 1262.11 305.19M1268.38 301.53 1268.39 301.52 1268.65 301.37M1274.93 297.71 1274.93 297.71 1275.2 297.55M1281.47 293.89 1281.74 293.73M1288.01 290.07 1288.29 289.91M1294.56 286.25 1294.82 286.09 1294.83 286.09M1301.1 282.43 1301.35 282.28 1301.38 282.27M1307.65 278.61 1307.89 278.47 1307.92 278.45M1314.19 274.79 1314.42 274.66 1314.47 274.63M1320.74 270.97 1320.95 270.85 1321.01 270.81M1327.28 267.16 1327.49 267.04 1327.56 267M1333.83 263.34 1334.02 263.23 1334.1 263.18M1340.38 259.52 1340.55 259.42 1340.65 259.36M1346.92 255.7 1347.08 255.61 1347.2 255.54M1353.47 251.89 1353.62 251.8 1353.74 251.73M1360.02 248.07 1360.15 247.99 1360.29 247.91M1366.56 244.25 1366.68 244.19 1366.84 244.1M1373.11 240.44 1373.22 240.38 1373.38 240.28M1379.66 236.62 1379.75 236.57 1379.93 236.46" fill="none" stroke="#ff0000" stroke-width="2.9" stroke-linejoin="round" stroke-linecap="round"/>
<path d="M790.6 580.3 L791.19 580.2 L791.79 579.93 L792.38 579.54 L792.98 579.06 L793.57 578.52 L794.16 577.94 L794.76 577.34 L795.35 576.73 L795.95 576.11 L796.54 575.5 L797.13 574.89 L797.73 574.3 L798.32 573.72 L798.91 573.15 L799.51 572.59 L800.1 572.05 L800.7 571.52 L801.29 571.01 L801.88 570.51 L802.48 570.03 L803.07 569.55 L803.67 569.09 L804.26 568.63 L804.85 568.19 L805.45 567.75 L806.04 567.32 L806.64 566.9 L807.23 566.49 L807.82 566.08 L808.42 565.68 L809.01 565.28 L809.6 564.88 L810.2 564.49 L810.79 564.11 L811.39 563.73 L811.98 563.35 L812.57 562.97 L813.17 562.59 L813.76 562.22 L814.36 561.85 L814.95 561.48 L815.54 561.11 L816.14 560.75 L816.73 560.38 L817.33 560.02 L817.92 559.66 L818.51 559.3 L819.11 558.93 L819.7 558.57 L820.3 558.22 L820.89 557.86 L821.48 557.5 L822.08 557.14 L822.67 556.78 L823.26 556.43 L823.86 556.07 L824.45 555.71 L825.05 555.36 L825.64 555 L826.23 554.65 L828.61 553.22 L830.99 551.81 L833.36 550.39 L835.74 548.97 L838.11 547.56 L840.49 546.14 L842.86 544.73 L845.24 543.31 L847.61 541.9 L849.99 540.48 L852.37 539.07 L854.74 537.66 L857.12 536.24 L859.49 534.83 L861.87 533.41 L864.24 532 L866.62 530.58 L868.99 529.17 L871.37 527.76 L873.75 526.34 L876.12 524.93 L878.5 523.52 L880.87 522.1 L883.25 520.69 L885.62 519.28 L888 517.86 L890.38 516.45 L892.75 515.03 L895.13 513.62 L897.5 512.21 L899.88 510.8 L902.25 509.38 L904.63 507.97 L907 506.56 L909.38 505.14 L915.32 501.61 L921.26 498.08 L927.2 494.55 L933.14 491.02 L939.08 487.49 L945.01 483.96 L950.95 480.43 L956.89 476.9 L962.83 473.37 L968.77 469.84 L974.71 466.31 L980.65 462.78 L986.59 459.25 L992.53 455.73 L998.47 452.2 L1004.4 448.67 L1010.34 445.15 L1016.28 441.62 L1022.22 438.09 L1028.16 434.57 L1034.1 431.04 L1040.04 427.52 L1045.98 424 L1051.92 420.47 L1057.86 416.95 L1063.79 413.42 L1069.73 409.9 L1075.67 406.38 L1081.61 402.86 L1087.55 399.33 L1093.49 395.81 L1099.43 392.29 L1105.37 388.77 L1111.31 385.25 L1117.24 381.73 L1123.18 378.21 L1129.12 374.69 L1135.06 371.17 L1141 367.65 L1146.94 364.14 L1152.88 360.62 L1158.82 357.1 L1164.76 353.58 L1170.7 350.07 L1176.63 346.55 L1182.57 343.03 L1188.51 339.52 L1194.45 336 L1200.39 332.49 L1206.33 328.97 L1212.27 325.46 L1218.21 321.94 L1224.15 318.43 L1230.09 314.92 L1236.03 311.4 L1241.96 307.89 L1247.9 304.38 L1253.84 300.87 L1259.78 297.35 L1265.72 293.84 L1271.66 290.33 L1277.6 286.82 L1283.54 283.31 L1289.48 279.8 L1295.41 276.29 L1301.35 272.78 L1307.29 269.27 L1313.23 265.77 L1319.17 262.26 L1325.11 258.75 L1331.05 255.24 L1336.99 251.73 L1342.93 248.23 L1348.87 244.72 L1354.81 241.22 L1360.74 237.71 L1366.68 234.2 L1372.62 230.7 L1378.56 227.2 L1384.5 223.69" fill="none" stroke="#000" stroke-width="2.7" stroke-linejoin="round"/>
<path d="M100.2 659 V1138.8 H692.7 M93 1138.8 H100.2 M93 1078.83 H100.2 M93 1018.85 H100.2 M93 958.88 H100.2 M93 898.9 H100.2 M93 838.92 H100.2 M93 778.95 H100.2 M93 718.98 H100.2 M93 659 H100.2 M100.2 1138.8 V1146 M218.7 1138.8 V1146 M337.2 1138.8 V1146 M455.7 1138.8 V1146 M574.2 1138.8 V1146 M692.7 1138.8 V1146" fill="none" stroke="#c2c2c2" stroke-width="2"/>
<path d="M100.2 1138.8 100.26 1138.58 100.3 1138.42M101.73 1128.72 101.74 1128.66 101.79 1128.29M103.24 1118.61 103.28 1118.39 103.31 1118.19M105.09 1108.91 105.12 1108.77 105.17 1108.51M107.2 1099.55 107.25 1099.32 107.29 1099.16M109.5 1090.42 109.5 1090.4 109.56 1090.18 109.6 1090.05M112.03 1081.59 112.05 1081.52 112.11 1081.33 112.14 1081.23M114.91 1073.18 114.95 1073.06 115.01 1072.91 115.04 1072.84M118.28 1065.4 118.33 1065.29 118.39 1065.17 118.43 1065.09M122.32 1058.45 122.36 1058.38 122.42 1058.3 122.48 1058.21 122.5 1058.18M127.17 1052.51 127.22 1052.45 127.28 1052.39 127.34 1052.33 127.39 1052.28M132.84 1047.61 132.85 1047.6 132.91 1047.56 132.97 1047.52 133.02 1047.47 133.08 1047.43 133.1 1047.42M139.2 1043.55 139.25 1043.52 139.31 1043.49 139.36 1043.45 139.42 1043.42 139.47 1043.39M146 1040.05 146 1040.05 146.06 1040.02 146.12 1039.99 146.18 1039.96 146.24 1039.93 146.29 1039.91M153.06 1036.88 153.23 1036.8 153.36 1036.75M160.29 1033.91 160.34 1033.89 160.59 1033.79M167.63 1031.08 167.75 1031.04 167.93 1030.97M175.06 1028.37 175.15 1028.34 175.37 1028.26M182.57 1025.76 182.85 1025.67 182.89 1025.66M190.16 1023.25 190.26 1023.22 190.48 1023.15M197.83 1020.84 197.96 1020.79 198.15 1020.74M205.56 1018.5 205.67 1018.47 205.89 1018.41M213.36 1016.25 213.37 1016.25 213.66 1016.17 213.69 1016.16M221.23 1014.09 221.37 1014.05 221.56 1014M229.15 1011.99 229.37 1011.94 229.49 1011.91M237.14 1009.97 237.36 1009.92 237.47 1009.89M245.18 1008.02 245.36 1007.98 245.51 1007.94M253.27 1006.14 253.36 1006.12 253.61 1006.06M261.41 1004.31 261.66 1004.26 261.75 1004.24M269.6 1002.55 269.66 1002.54 269.94 1002.48M277.84 1000.85 277.95 1000.82 278.18 1000.78M286.11 999.19 286.25 999.17 286.46 999.13M294.43 997.59 294.54 997.57 294.78 997.53M302.79 996.04 302.83 996.03 303.13 995.98 303.14 995.98M311.19 994.53 311.43 994.49 311.54 994.47M319.62 993.07 319.72 993.05 319.97 993.01M328.08 991.65 328.31 991.61 328.43 991.59M336.57 990.27 336.61 990.26 336.9 990.21 336.93 990.21M345.1 988.92 345.2 988.9 345.45 988.87M353.65 987.61 353.79 987.59 354.01 987.56M362.23 986.33 362.38 986.31 362.59 986.28M370.83 985.09 370.97 985.07 371.19 985.04M379.46 983.88 379.56 983.86 379.82 983.83M388.11 982.69 388.15 982.68 388.45 982.64 388.47 982.64M396.79 981.53 397.04 981.5 397.15 981.48M405.48 980.4 405.63 980.38 405.84 980.35M414.19 979.29 414.22 979.29 414.52 979.25 414.56 979.25M422.93 978.21 423.11 978.19 423.29 978.16M431.68 977.15 431.7 977.14 432 977.11 432.04 977.1M440.45 976.11 440.59 976.09 440.81 976.06M449.23 975.09 449.48 975.06 449.6 975.05M458.03 974.09 458.07 974.08 458.37 974.05 458.4 974.05M466.85 973.11 466.96 973.09 467.21 973.07M475.67 972.14 475.84 972.13 476.04 972.1M484.52 971.2 484.73 971.18 484.89 971.16M493.38 970.27 493.62 970.24 493.74 970.23M502.24 969.36 502.51 969.33 502.61 969.32M511.13 968.46 511.39 968.43 511.5 968.42M520.02 967.57 520.28 967.55 520.39 967.54M528.92 966.71 529.17 966.68 529.3 966.67M537.84 965.85 538.06 965.83 538.21 965.81M546.77 965.01 546.95 964.99 547.14 964.97M555.7 964.18 555.83 964.17 556.08 964.14M564.65 963.36 564.72 963.35 565.02 963.33 565.02 963.33M573.6 962.56 573.61 962.56 573.9 962.53 573.98 962.52M582.57 961.76 582.79 961.74 582.94 961.73M591.54 960.98 591.68 960.97 591.92 960.95M600.53 960.21 600.57 960.21 600.86 960.18 600.9 960.18M609.52 959.45 609.75 959.43 609.89 959.42M618.52 958.7 618.64 958.69 618.89 958.67M627.53 957.96 627.82 957.93 627.9 957.93M636.54 957.23 636.71 957.21 636.92 957.2M645.57 956.51 645.6 956.5 645.89 956.48 645.94 956.48M654.6 955.8 654.78 955.78 654.97 955.77M663.63 955.09 663.67 955.09 663.96 955.07 664.01 955.06M672.68 954.4 672.85 954.39 673.06 954.37M681.73 953.71 681.74 953.71 682.04 953.69 682.11 953.69M690.79 953.04 690.92 953.03 691.17 953.01" fill="none" stroke="#ee811d" stroke-width="2.6" stroke-linejoin="round" stroke-linecap="round"/>
<path d="M100.2 1138.8 100.26 1138.78 100.56 1138.28 100.85 1137.15 101.15 1135.52 101.44 1133.48 101.74 1131.13 102.04 1128.53 102.08 1128.15M103.09 1118.04 103.1 1117.93 103.28 1116.06 103.46 1114.19 103.64 1112.31 103.81 1110.43 103.99 1108.56 104.17 1106.69 104.2 1106.42M105.19 1096.28 105.24 1095.8 105.41 1094.06 105.59 1092.34 105.77 1090.64 105.95 1088.97 106.12 1087.32 106.3 1085.7 106.4 1084.8M107.57 1074.89 107.61 1074.64 107.84 1072.78 108.08 1070.97 108.32 1069.2 108.55 1067.48 108.79 1065.8 109.03 1064.16 109.08 1063.78M110.6 1054.3 110.63 1054.15 110.92 1052.47 111.22 1050.85 111.52 1049.28 111.81 1047.76 112.11 1046.28 112.41 1044.85 112.62 1043.83M114.71 1035.06 114.72 1035.04 115.19 1033.29 115.66 1031.62 116.14 1030.01 116.61 1028.48 117.09 1027.01 117.56 1025.62M120.54 1017.97 120.58 1017.87 121.23 1016.44 121.89 1015.09 122.54 1013.8 123.19 1012.57 123.84 1011.4 124.49 1010.28 124.62 1010.07M128.83 1003.96 128.88 1003.9 129.77 1002.81 130.65 1001.76 131.54 1000.76 132.43 999.8 133.32 998.88 134.21 998 134.35 997.86M139.69 993.16 139.72 993.13 140.79 992.29 141.85 991.46 142.92 990.66 143.99 989.87 145.05 989.1 146.12 988.35 146.19 988.29M152.13 984.33 152.34 984.2 153.23 983.63 154.12 983.07 155.01 982.52 155.9 981.97 156.78 981.43 157.67 980.89 158.56 980.36 159.09 980.04M165.31 976.44 165.38 976.41 166.56 975.74 167.75 975.08 168.93 974.43 170.12 973.78 171.3 973.14 172.49 972.51 172.54 972.48M178.96 969.13 179 969.11 180.19 968.51 181.37 967.91 182.56 967.32 183.74 966.73 184.93 966.15 186.11 965.57 186.4 965.43M193 962.3 193.22 962.2 194.41 961.65 195.59 961.11 196.78 960.57 197.96 960.03 199.15 959.5 200.33 958.98 200.63 958.84M207.39 955.92 207.44 955.9 208.63 955.4 209.81 954.9 211 954.41 212.18 953.92 213.37 953.43 214.55 952.95 215.21 952.68M222.12 949.95 222.25 949.89 223.44 949.44 224.62 948.98 225.81 948.53 227 948.08 228.18 947.64 229.37 947.2 230.1 946.92M237.15 944.36 237.36 944.29 238.55 943.87 239.73 943.45 240.92 943.04 242.1 942.63 243.29 942.22 244.47 941.81 245.29 941.53M252.47 939.14 252.47 939.14 253.66 938.75 254.84 938.37 256.03 937.99 257.21 937.61 258.4 937.23 259.58 936.86 260.75 936.49M268.06 934.24 268.17 934.21 269.36 933.85 270.54 933.5 271.73 933.15 272.91 932.8 274.1 932.45 275.28 932.1 276.47 931.76M283.88 929.66 284.17 929.58 285.36 929.25 286.54 928.92 287.73 928.59 288.91 928.27 290.1 927.95 291.28 927.63 292.42 927.32M299.94 925.35 300.17 925.29 301.35 924.98 302.54 924.68 303.72 924.38 304.91 924.08 306.09 923.78 307.28 923.48 308.46 923.19 308.59 923.16M316.2 921.3 316.46 921.23 317.65 920.95 318.83 920.67 320.02 920.39 321.2 920.11 322.39 919.83 323.57 919.56 324.76 919.28 324.95 919.24M332.65 917.48 332.76 917.46 334.24 917.13 335.72 916.8 337.2 916.47 338.68 916.15 340.16 915.83 341.49 915.54M349.27 913.89 349.35 913.87 350.83 913.56 352.31 913.25 353.79 912.95 355.27 912.64 356.75 912.34 358.2 912.05M366.05 910.49 366.23 910.45 367.71 910.16 369.19 909.87 370.68 909.58 372.16 909.3 373.64 909.02 375.06 908.75M382.97 907.26 383.12 907.24 384.6 906.96 386.08 906.69 387.56 906.42 389.04 906.16 390.52 905.89 392.01 905.62 392.05 905.61M400.03 904.21 400.3 904.16 401.78 903.9 403.26 903.65 404.75 903.39 406.23 903.14 407.71 902.89 409.17 902.64M417.2 901.3 417.48 901.25 418.96 901.01 420.45 900.77 421.93 900.52 423.41 900.28 424.89 900.05 426.37 899.81 426.4 899.8M434.48 898.53 434.67 898.5 436.15 898.26 437.63 898.03 439.11 897.81 440.59 897.58 442.07 897.35 443.55 897.12 443.74 897.1M451.86 895.87 452.14 895.83 453.63 895.61 455.11 895.39 456.59 895.18 458.07 894.96 459.55 894.74 461.03 894.53 461.17 894.51M469.33 893.33 469.62 893.29 471.1 893.08 472.59 892.87 474.07 892.67 475.55 892.46 477.03 892.25 478.51 892.05 478.68 892.02M486.88 890.9 487.1 890.87 488.58 890.66 490.06 890.46 491.55 890.26 493.03 890.07 494.51 889.87 495.99 889.67 496.27 889.63M504.5 888.55 504.58 888.54 506.06 888.35 507.54 888.15 509.02 887.96 510.51 887.77 511.99 887.58 513.47 887.39 513.93 887.33M522.19 886.28 522.36 886.26 523.84 886.08 525.32 885.89 526.8 885.71 528.28 885.52 529.76 885.34 531.24 885.16 531.65 885.11M539.94 884.09 540.13 884.07 541.61 883.89 543.09 883.71 544.58 883.53 546.06 883.36 547.54 883.18 549.02 883 549.42 882.95M557.74 881.97 557.91 881.95 559.39 881.78 560.87 881.6 562.35 881.43 563.83 881.26 565.31 881.09 566.79 880.92 567.25 880.86M575.59 879.91 575.68 879.9 577.16 879.73 578.64 879.56 580.12 879.39 581.61 879.23 583.09 879.06 584.57 878.89 585.13 878.83M593.48 877.9 593.75 877.87 595.23 877.71 596.72 877.55 598.2 877.38 599.68 877.22 601.16 877.06 602.64 876.9 603.04 876.85M611.42 875.94 611.53 875.93 613.01 875.77 614.49 875.61 615.97 875.46 617.45 875.3 618.93 875.14 620.42 874.98 621 874.92M629.39 874.03 629.6 874.01 631.08 873.85 632.56 873.7 634.04 873.54 635.52 873.39 637 873.23 638.49 873.08 638.98 873.03M647.39 872.16 647.67 872.13 649.15 871.98 650.63 871.83 652.11 871.67 653.6 871.52 655.08 871.37 656.56 871.22 657 871.17M665.42 870.32 665.45 870.32 666.93 870.17 668.41 870.02 669.89 869.87 671.37 869.72 672.85 869.58 674.33 869.43 675.04 869.36M683.47 868.52 683.52 868.51 685 868.37 686.48 868.22 687.96 868.07 689.44 867.93 690.92 867.78 692.4 867.64 692.7 867.61" fill="none" stroke="#c8701f" stroke-width="2.6" stroke-linejoin="round"/>
<path d="M100.2 1138.8 100.26 1138.78 100.67 1137.65 101.09 1135.26 101.5 1132.1 101.92 1128.53 102.33 1124.74 102.75 1120.9 102.88 1119.65M103.6 1113.17 103.64 1112.83 104.05 1109.25 104.47 1105.8 104.88 1102.5 105.3 1099.34 105.71 1096.31 106.07 1093.77M107.02 1087.58 107.07 1087.25 107.61 1084.03 108.14 1080.97 108.67 1078.04 109.21 1075.25 109.74 1072.57 110.27 1070.01 110.42 1069.32M111.71 1063.56 111.75 1063.38 112.46 1060.44 113.18 1057.63 113.89 1054.94 114.6 1052.36 115.31 1049.89 116.02 1047.52 116.26 1046.75M117.96 1041.5 117.97 1041.46 118.92 1038.72 119.87 1036.12 120.82 1033.62 121.77 1031.22 122.72 1028.91 123.66 1026.69 123.82 1026.33M125.95 1021.62 125.97 1021.58 127.1 1019.22 128.23 1016.94 129.35 1014.73 130.48 1012.58 131.6 1010.49 132.73 1008.45 133.01 1007.94M135.48 1003.65 135.51 1003.59 136.82 1001.4 138.12 999.26 139.42 997.15 140.73 995.09 142.03 993.06 143.33 991.06 143.37 991.01M146.06 987 146.06 986.99 146.53 986.3 147.01 985.6 147.48 984.92 149.38 982.2 151.75 978.88 154.12 975.63 154.53 975.08M157.38 971.28 157.67 970.9 159.15 968.97 160.63 967.07 162.12 965.2 163.6 963.34 165.08 961.51 166.34 959.97M169.35 956.36 169.52 956.15 171 954.41 172.49 952.69 173.97 950.99 175.45 949.3 176.93 947.64 178.41 945.99 178.75 945.61M181.9 942.18 181.97 942.11 183.45 940.53 184.93 938.96 186.41 937.4 187.89 935.87 189.37 934.34 190.85 932.84 191.72 931.96M195.01 928.69 195.3 928.4 196.78 926.96 198.26 925.52 199.74 924.1 201.22 922.69 202.7 921.29 204.18 919.91 205.22 918.95M208.62 915.83 208.63 915.83 210.41 914.22 212.18 912.64 213.96 911.06 215.74 909.51 217.51 907.97 219.18 906.53M222.7 903.55 222.85 903.43 224.62 901.94 226.4 900.47 228.18 899 229.96 897.56 231.74 896.12 233.51 894.7 233.58 894.64M237.19 891.79 237.36 891.65 239.14 890.26 240.92 888.88 242.7 887.51 244.47 886.15 246.25 884.8 248.03 883.47 248.34 883.23M252.04 880.48 252.18 880.38 253.95 879.07 255.73 877.77 257.51 876.48 259.29 875.19 261.06 873.92 262.84 872.65 263.44 872.23M267.21 869.57 267.29 869.52 269.06 868.28 270.84 867.04 272.62 865.82 274.39 864.6 276.17 863.38 277.95 862.18 278.83 861.58M282.67 859.01 282.69 858.99 284.47 857.81 286.25 856.63 288.02 855.46 289.8 854.29 291.58 853.13 293.36 851.98 294.47 851.26M298.36 848.75 298.39 848.73 300.17 847.6 301.95 846.47 303.72 845.34 305.5 844.22 307.28 843.11 309.06 841.99 310.32 841.2M314.27 838.76 314.39 838.69 316.17 837.59 317.94 836.51 319.72 835.42 321.5 834.34 323.28 833.26 325.05 832.19 326.38 831.39M330.36 829.01 330.39 828.99 332.46 827.76 334.53 826.53 336.61 825.31 338.68 824.09 340.75 822.87 342.6 821.8M346.63 819.46 346.68 819.43 348.75 818.23 350.83 817.04 352.9 815.85 354.98 814.67 357.05 813.49 358.97 812.39M363.04 810.1 363.27 809.97 365.34 808.81 367.42 807.65 369.49 806.49 371.56 805.34 373.64 804.19 375.49 803.16M379.59 800.91 379.86 800.76 381.93 799.63 384.01 798.49 386.08 797.37 388.15 796.24 390.23 795.12 392.13 794.09M396.26 791.88 396.45 791.78 398.52 790.67 400.6 789.56 402.67 788.46 404.75 787.36 406.82 786.27 408.89 785.18 408.9 785.17M413.05 782.99 413.34 782.84 415.41 781.76 417.48 780.68 419.56 779.6 421.63 778.53 423.7 777.46 425.77 776.39M429.96 774.24 430.22 774.11 432.3 773.05 434.37 771.99 436.44 770.93 438.52 769.88 440.59 768.83 442.66 767.79 442.75 767.74M446.96 765.63 447.11 765.55 449.18 764.52 451.26 763.48 453.33 762.45 455.4 761.42 457.48 760.39 459.55 759.36 459.84 759.22M464.07 757.14 464.29 757.03 466.37 756.01 468.44 755 470.51 753.98 472.59 752.97 474.66 751.97 476.73 750.96 477.02 750.82M481.27 748.77 481.47 748.67 483.55 747.67 485.62 746.68 487.69 745.69 489.77 744.7 491.84 743.71 493.92 742.72 494.3 742.54M498.57 740.52 498.66 740.48 500.73 739.5 502.8 738.53 504.88 737.55 506.95 736.58 509.02 735.61 511.1 734.65 511.67 734.38M515.97 732.38 516.13 732.31 518.21 731.35 520.28 730.39 522.36 729.44 524.43 728.48 526.5 727.53 528.58 726.59 529.13 726.33M533.45 724.37 533.61 724.29 535.69 723.35 537.76 722.41 539.84 721.48 541.91 720.54 543.98 719.61 546.06 718.68 546.68 718.4M551.03 716.46 551.09 716.43 553.17 715.51 555.24 714.59 557.31 713.67 559.39 712.75 561.46 711.84 563.53 710.92 564.32 710.58M568.69 708.66 568.87 708.59 570.94 707.68 573.01 706.78 575.09 705.88 577.16 704.98 579.24 704.08 581.31 703.18 582.05 702.86M586.44 700.98 586.64 700.89 588.72 700 590.79 699.12 592.86 698.23 594.94 697.35 597.01 696.47 599.09 695.59 599.87 695.26M604.28 693.4 604.42 693.34 606.49 692.47 608.57 691.6 610.64 690.73 612.71 689.87 614.79 689 616.86 688.14 617.77 687.76M622.2 685.93 622.49 685.81 624.56 684.96 626.64 684.11 628.71 683.25 630.78 682.41 632.86 681.56 634.93 680.71 635.76 680.38M640.21 678.57 640.26 678.55 642.34 677.71 644.41 676.87 646.49 676.04 648.56 675.2 650.63 674.37 652.71 673.54 653.83 673.09M658.31 671.31 658.34 671.3 660.41 670.48 662.48 669.66 664.56 668.84 666.63 668.02 668.7 667.21 670.78 666.39 671.99 665.92M676.49 664.16 676.7 664.08 678.78 663.27 680.85 662.47 682.92 661.66 685 660.86 687.07 660.06 689.15 659.26 690.24 658.85" fill="none" stroke="#7d4009" stroke-width="2.6" stroke-linejoin="round"/>
<path d="M790.5 659.4 V1138.5 H1384.3 M783.3 1138.5 H790.5 M783.3 1042.68 H790.5 M783.3 946.86 H790.5 M783.3 851.04 H790.5 M783.3 755.22 H790.5 M783.3 659.4 H790.5 M790.5 1138.5 V1145.7 M909.26 1138.5 V1145.7 M1028.02 1138.5 V1145.7 M1146.78 1138.5 V1145.7 M1265.54 1138.5 V1145.7 M1384.3 1138.5 V1145.7" fill="none" stroke="#c2c2c2" stroke-width="2"/>
<path d="M790.5 1138.5 790.56 1138.49 790.62 1138.48 790.68 1138.47 790.74 1138.46 790.8 1138.45 790.85 1138.44M799.68 1137.98 799.7 1137.97 799.76 1137.97 799.82 1137.97 799.88 1137.97 799.94 1137.96 800 1137.96 800.06 1137.96 800.07 1137.96M808.88 1137.47 808.91 1137.47 808.97 1137.47 809.03 1137.46 809.09 1137.46 809.15 1137.46 809.2 1137.45 809.26 1137.45M818.05 1136.93 818.05 1136.93 818.11 1136.93 818.17 1136.93 818.23 1136.92 818.29 1136.92 818.35 1136.92 818.41 1136.91 818.43 1136.91M827.21 1136.39 827.26 1136.39 827.32 1136.38 827.37 1136.38 827.43 1136.37 827.49 1136.37 827.55 1136.37 827.59 1136.37M836.37 1135.84 836.4 1135.84 836.46 1135.84 836.52 1135.83 836.58 1135.83 836.64 1135.83 836.7 1135.82 836.75 1135.82M845.54 1135.29 845.72 1135.28 845.92 1135.27M854.7 1134.75 854.93 1134.73 855.08 1134.72M863.86 1134.2 864.13 1134.18 864.24 1134.18M873.02 1133.65 873.04 1133.65 873.34 1133.64 873.4 1133.63M882.19 1133.11 882.24 1133.1 882.54 1133.09 882.57 1133.08M891.35 1132.56 891.45 1132.55 891.73 1132.54M900.51 1132.01 900.65 1132.01 900.89 1131.99M909.67 1131.47 909.85 1131.46 910.06 1131.44M918.84 1130.92 919.06 1130.91 919.22 1130.9M928 1130.38 928.26 1130.36 928.38 1130.35M937.16 1129.83 937.17 1129.83 937.47 1129.81 937.55 1129.81M946.33 1129.28 946.37 1129.28 946.67 1129.26 946.71 1129.26M955.49 1128.74 955.58 1128.73 955.87 1128.71M964.65 1128.19 964.78 1128.18 965.03 1128.17M973.82 1127.65 973.98 1127.64 974.2 1127.62M982.98 1127.1 983.19 1127.09 983.36 1127.08M992.14 1126.55 992.39 1126.54 992.53 1126.53M1001.31 1126.01 1001.6 1125.99 1001.69 1125.99M1010.47 1125.46 1010.5 1125.46 1010.8 1125.44 1010.85 1125.44M1019.64 1124.92 1019.71 1124.91 1020 1124.9 1020.02 1124.9M1028.8 1124.37 1028.91 1124.37 1029.18 1124.35M1037.96 1123.83 1038.11 1123.82 1038.34 1123.81M1047.13 1123.28 1047.32 1123.27 1047.51 1123.26M1056.29 1122.74 1056.52 1122.73 1056.67 1122.72M1065.46 1122.19 1065.73 1122.18 1065.84 1122.17M1074.62 1121.65 1074.63 1121.65 1074.93 1121.63 1075 1121.63M1083.78 1121.11 1083.84 1121.1 1084.13 1121.08 1084.17 1121.08M1092.95 1120.56 1093.04 1120.56 1093.33 1120.54M1102.11 1120.02 1102.24 1120.01 1102.5 1119.99M1111.28 1119.47 1111.45 1119.46 1111.66 1119.45M1120.44 1118.93 1120.65 1118.92 1120.82 1118.91M1129.61 1118.38 1129.86 1118.37 1129.99 1118.36M1138.77 1117.84 1139.06 1117.82 1139.15 1117.82M1147.94 1117.3 1147.97 1117.29 1148.26 1117.28 1148.32 1117.27M1157.1 1116.75 1157.17 1116.75 1157.47 1116.73 1157.48 1116.73M1166.27 1116.21 1166.38 1116.2 1166.65 1116.19M1175.43 1115.67 1175.58 1115.66 1175.81 1115.64M1184.6 1115.12 1184.78 1115.11 1184.98 1115.1M1193.76 1114.58 1193.99 1114.57 1194.15 1114.56M1202.93 1114.04 1203.19 1114.02 1203.31 1114.01M1212.09 1113.49 1212.1 1113.49 1212.39 1113.48 1212.48 1113.47M1221.26 1112.95 1221.3 1112.95 1221.6 1112.93 1221.64 1112.93M1230.43 1112.41 1230.51 1112.4 1230.8 1112.38 1230.81 1112.38M1239.59 1111.86 1239.71 1111.86 1239.97 1111.84M1248.76 1111.32 1248.91 1111.31 1249.14 1111.3M1257.92 1110.78 1258.12 1110.77 1258.3 1110.76M1267.09 1110.24 1267.32 1110.22 1267.47 1110.21M1276.25 1109.69 1276.53 1109.68 1276.64 1109.67M1285.42 1109.15 1285.43 1109.15 1285.73 1109.13 1285.8 1109.13M1294.59 1108.61 1294.64 1108.61 1294.93 1108.59 1294.97 1108.59M1303.75 1108.07 1303.84 1108.06 1304.14 1108.04M1312.92 1107.52 1313.04 1107.52 1313.3 1107.5M1322.09 1106.98 1322.25 1106.97 1322.47 1106.96M1331.25 1106.44 1331.45 1106.43 1331.63 1106.42M1340.42 1105.9 1340.66 1105.89 1340.8 1105.88M1349.59 1105.36 1349.86 1105.34 1349.97 1105.33M1358.75 1104.82 1358.77 1104.82 1359.06 1104.8 1359.13 1104.79M1367.92 1104.27 1367.97 1104.27 1368.27 1104.25 1368.3 1104.25M1377.09 1103.73 1377.17 1103.73 1377.47 1103.71" fill="none" stroke="#6d5dfb" stroke-width="2.6" stroke-linejoin="round" stroke-linecap="round"/>
<path d="M790.5 1138.5 790.56 1138.5 792.16 1138.41 793.77 1138.28 795.37 1138.14 796.97 1137.99 798.58 1137.83 800.18 1137.66 800.22 1137.65M808.51 1136.64 808.55 1136.64 810.1 1136.44 811.64 1136.24 813.18 1136.04 814.73 1135.84 816.27 1135.63 817.81 1135.43 817.93 1135.42M826.16 1134.33 826.19 1134.33 827.73 1134.12 829.28 1133.92 830.82 1133.71 832.36 1133.51 833.91 1133.31 835.45 1133.1 835.57 1133.09M843.8 1132 843.94 1131.98 845.43 1131.78 846.91 1131.59 848.4 1131.39 849.88 1131.2 851.36 1131 852.85 1130.8 853.21 1130.76M861.44 1129.67 861.46 1129.67 862.94 1129.47 864.43 1129.28 865.91 1129.08 867.4 1128.89 868.88 1128.69 870.37 1128.5 870.85 1128.43M879.08 1127.35 879.27 1127.32 880.76 1127.13 882.24 1126.93 883.73 1126.74 885.21 1126.54 886.7 1126.35 888.18 1126.15 888.49 1126.11M896.72 1125.03 896.79 1125.02 898.27 1124.83 899.76 1124.63 901.24 1124.44 902.73 1124.24 904.21 1124.05 905.7 1123.85 906.14 1123.8M914.37 1122.72 914.6 1122.69 916.09 1122.49 917.57 1122.3 919.06 1122.1 920.54 1121.91 922.03 1121.72 923.51 1121.52 923.79 1121.49M932.03 1120.41 932.12 1120.4 933.61 1120.2 935.09 1120.01 936.57 1119.81 938.06 1119.62 939.54 1119.43 941.03 1119.23 941.44 1119.18M949.68 1118.1 949.94 1118.07 951.42 1117.88 952.9 1117.68 954.39 1117.49 955.87 1117.3 957.36 1117.1 958.84 1116.91 959.1 1116.88M967.34 1115.8 967.45 1115.79 968.94 1115.6 970.42 1115.4 971.91 1115.21 973.39 1115.02 974.87 1114.82 976.36 1114.63 976.76 1114.58M985.01 1113.51 985.27 1113.47 986.75 1113.28 988.24 1113.09 989.72 1112.9 991.2 1112.7 992.69 1112.51 994.17 1112.32 994.43 1112.28M1002.67 1111.22 1002.78 1111.2 1004.27 1111.01 1005.75 1110.82 1007.24 1110.62 1008.72 1110.43 1010.21 1110.24 1011.69 1110.05 1012.1 1109.99M1020.34 1108.93 1020.6 1108.89 1022.08 1108.7 1023.57 1108.51 1025.05 1108.32 1026.54 1108.13 1028.02 1107.94 1029.5 1107.74 1029.77 1107.71M1038.02 1106.64 1038.11 1106.63 1039.6 1106.44 1041.08 1106.25 1042.57 1106.06 1044.05 1105.87 1045.54 1105.67 1047.02 1105.48 1047.44 1105.43M1055.69 1104.36 1055.93 1104.33 1057.41 1104.14 1058.9 1103.95 1060.38 1103.76 1061.87 1103.57 1063.35 1103.38 1064.84 1103.19 1065.12 1103.15M1073.37 1102.09 1073.45 1102.08 1074.93 1101.89 1076.41 1101.7 1077.9 1101.51 1079.38 1101.32 1080.87 1101.13 1082.35 1100.94 1082.8 1100.88M1091.05 1099.82 1091.26 1099.79 1092.74 1099.6 1094.23 1099.41 1095.71 1099.22 1097.2 1099.03 1098.68 1098.84 1100.17 1098.65 1100.49 1098.61M1108.74 1097.55 1108.78 1097.55 1110.26 1097.36 1111.75 1097.17 1113.23 1096.98 1114.71 1096.79 1116.2 1096.6 1117.68 1096.41 1118.17 1096.34M1126.43 1095.29 1126.59 1095.27 1128.08 1095.08 1129.56 1094.89 1131.04 1094.7 1132.53 1094.51 1134.01 1094.32 1135.5 1094.13 1135.87 1094.08M1144.12 1093.03 1144.4 1092.99 1145.89 1092.8 1147.37 1092.61 1148.86 1092.43 1150.34 1092.24 1151.83 1092.05 1153.31 1091.86 1153.56 1091.83M1161.82 1090.77 1161.92 1090.76 1163.41 1090.57 1164.89 1090.38 1166.38 1090.19 1167.86 1090.01 1169.34 1089.82 1170.83 1089.63 1171.26 1089.57M1179.52 1088.52 1179.74 1088.49 1181.22 1088.31 1182.7 1088.12 1184.19 1087.93 1185.67 1087.74 1187.16 1087.55 1188.64 1087.36 1188.96 1087.32M1197.22 1086.28 1197.25 1086.27 1198.74 1086.08 1200.22 1085.89 1201.71 1085.71 1203.19 1085.52 1204.68 1085.33 1206.16 1085.14 1206.66 1085.08M1214.93 1084.03 1215.07 1084.01 1216.55 1083.83 1218.04 1083.64 1219.52 1083.45 1221 1083.26 1222.49 1083.07 1223.97 1082.89 1224.37 1082.84M1232.63 1081.79 1232.88 1081.76 1234.37 1081.57 1235.85 1081.39 1237.33 1081.2 1238.82 1081.01 1240.3 1080.82 1241.79 1080.64 1242.08 1080.6M1250.35 1079.56 1250.4 1079.55 1251.88 1079.36 1253.37 1079.18 1254.85 1078.99 1256.34 1078.8 1257.82 1078.61 1259.31 1078.43 1259.79 1078.37M1268.06 1077.32 1268.21 1077.31 1269.7 1077.12 1271.18 1076.93 1272.67 1076.74 1274.15 1076.56 1275.63 1076.37 1277.12 1076.18 1277.51 1076.14M1285.78 1075.1 1286.03 1075.06 1287.51 1074.88 1289 1074.69 1290.48 1074.51 1291.96 1074.32 1293.45 1074.13 1294.93 1073.95 1295.23 1073.91M1303.5 1072.87 1303.54 1072.87 1305.03 1072.68 1306.51 1072.49 1308 1072.31 1309.48 1072.12 1310.97 1071.94 1312.45 1071.75 1312.95 1071.69M1321.22 1070.65 1321.36 1070.63 1322.84 1070.45 1324.33 1070.26 1325.81 1070.08 1327.3 1069.89 1328.78 1069.71 1330.26 1069.52 1330.67 1069.47M1338.95 1068.43 1339.17 1068.41 1340.66 1068.22 1342.14 1068.03 1343.62 1067.85 1345.11 1067.66 1346.59 1067.48 1348.08 1067.29 1348.4 1067.25M1356.68 1066.22 1356.69 1066.22 1358.17 1066.03 1359.66 1065.85 1361.14 1065.66 1362.63 1065.48 1364.11 1065.29 1365.6 1065.11 1366.13 1065.04M1374.41 1064.01 1374.5 1064 1375.99 1063.81 1377.47 1063.63 1378.96 1063.44 1380.44 1063.26 1381.92 1063.07 1383.41 1062.89 1383.87 1062.83" fill="none" stroke="#604cec" stroke-width="2.6" stroke-linejoin="round"/>
<path d="M790.5 1138.5 790.56 1138.5 790.92 1138.48 791.27 1138.43 791.63 1138.37 791.98 1138.28 792.34 1138.18 792.7 1138.07 792.98 1137.97M797.82 1136.03 797.86 1136.01 799.29 1135.47 800.71 1134.96 802.14 1134.48 803.56 1134.03 804.99 1133.6 806.41 1133.19 806.44 1133.18M811.8 1131.75 811.82 1131.75 812.17 1131.66 812.53 1131.57 812.89 1131.48 813.24 1131.39 813.6 1131.3 813.96 1131.21 814.22 1131.15M819.57 1129.84 819.6 1129.83 821.08 1129.47 822.57 1129.12 824.05 1128.76 825.53 1128.41 827.02 1128.05 828.5 1127.7 828.72 1127.65M834.18 1126.35 834.2 1126.34 834.56 1126.25 834.92 1126.17 835.27 1126.09 835.63 1126 835.99 1125.92 836.34 1125.83 836.61 1125.77M841.99 1124.49 842.16 1124.45 843.65 1124.09 845.13 1123.74 846.61 1123.39 848.1 1123.04 849.58 1122.68 851.07 1122.33 851.15 1122.31M856.61 1121.01 856.71 1120.99 857.01 1120.92 857.3 1120.85 857.6 1120.78 857.9 1120.71 858.19 1120.64 858.49 1120.57 858.79 1120.5 859.05 1120.44M864.43 1119.16 864.43 1119.16 865.91 1118.8 867.4 1118.45 868.88 1118.1 870.37 1117.75 871.85 1117.39 873.34 1117.04 873.59 1116.98M879.05 1115.68 879.27 1115.63 879.57 1115.56 879.87 1115.49 880.16 1115.42 880.46 1115.35 880.76 1115.28 881.05 1115.21 881.35 1115.14 881.49 1115.11M886.86 1113.83 886.99 1113.8 888.48 1113.45 889.96 1113.09 891.45 1112.74 892.93 1112.39 894.41 1112.04 895.9 1111.68 896.02 1111.65M901.49 1110.36 901.54 1110.34 901.84 1110.27 902.13 1110.2 902.43 1110.13 902.73 1110.06 903.03 1109.99 903.32 1109.92 903.62 1109.85 903.92 1109.78 903.92 1109.78M909.3 1108.5 909.56 1108.44 911.04 1108.09 912.53 1107.74 914.01 1107.38 915.49 1107.03 916.98 1106.68 918.46 1106.33M923.93 1105.03 924.11 1104.99 924.4 1104.92 924.7 1104.85 925 1104.78 925.29 1104.71 925.59 1104.64 925.89 1104.57 926.18 1104.5 926.36 1104.45M931.74 1103.18 931.82 1103.16 933.31 1102.81 934.79 1102.45 936.28 1102.1 937.76 1101.75 939.25 1101.4 940.73 1101.04 940.9 1101M946.37 1099.71 946.37 1099.71 946.67 1099.64 946.97 1099.57 947.26 1099.5 947.56 1099.42 947.86 1099.35 948.15 1099.28 948.45 1099.21 948.75 1099.14 948.8 1099.13M954.18 1097.85 954.39 1097.81 955.87 1097.45 957.36 1097.1 958.84 1096.75 960.33 1096.4 961.81 1096.05 963.3 1095.69 963.35 1095.68M968.81 1094.39 968.94 1094.36 969.23 1094.29 969.53 1094.21 969.83 1094.14 970.12 1094.07 970.42 1094 970.72 1093.93 971.02 1093.86 971.25 1093.81M976.63 1092.53 976.66 1092.53 978.14 1092.17 979.63 1091.82 981.11 1091.47 982.59 1091.12 984.08 1090.77 985.56 1090.41 985.79 1090.36M991.25 1089.07 991.5 1089.01 991.8 1088.94 992.1 1088.87 992.39 1088.8 992.69 1088.72 992.99 1088.65 993.28 1088.58 993.58 1088.51 993.69 1088.49M999.07 1087.21 999.22 1087.18 1000.71 1086.82 1002.19 1086.47 1003.67 1086.12 1005.16 1085.77 1006.64 1085.42 1008.13 1085.07 1008.23 1085.04M1013.7 1083.75 1013.77 1083.73 1014.07 1083.66 1014.36 1083.59 1014.66 1083.52 1014.96 1083.45 1015.25 1083.38 1015.55 1083.31 1015.85 1083.24 1016.14 1083.17M1021.52 1081.89 1021.79 1081.83 1023.27 1081.48 1024.75 1081.13 1026.24 1080.78 1027.72 1080.42 1029.21 1080.07 1030.68 1079.72M1036.14 1078.43 1036.33 1078.38 1036.63 1078.31 1036.93 1078.24 1037.22 1078.17 1037.52 1078.1 1037.82 1078.03 1038.11 1077.96 1038.41 1077.89 1038.58 1077.85M1043.96 1076.58 1044.05 1076.56 1045.54 1076.2 1047.02 1075.85 1048.51 1075.5 1049.99 1075.15 1051.48 1074.8 1052.96 1074.45 1053.13 1074.41M1058.59 1073.11 1058.6 1073.11 1058.9 1073.04 1059.19 1072.97 1059.49 1072.9 1059.79 1072.83 1060.09 1072.76 1060.38 1072.69 1060.68 1072.62 1060.98 1072.55 1061.03 1072.54M1066.41 1071.26 1066.62 1071.21 1068.1 1070.86 1069.59 1070.51 1071.07 1070.16 1072.56 1069.81 1074.04 1069.46 1075.52 1069.11 1075.57 1069.09M1081.04 1067.8 1081.17 1067.77 1081.46 1067.7 1081.76 1067.63 1082.06 1067.56 1082.35 1067.49 1082.65 1067.42 1082.95 1067.35 1083.24 1067.28 1083.48 1067.22M1088.86 1065.95 1088.88 1065.94 1090.37 1065.59 1091.85 1065.24 1093.34 1064.89 1094.82 1064.54 1096.31 1064.19 1097.79 1063.84 1098.02 1063.78M1103.49 1062.49 1103.73 1062.43 1104.03 1062.36 1104.32 1062.29 1104.62 1062.22 1104.92 1062.15 1105.21 1062.08 1105.51 1062.01 1105.81 1061.94 1105.93 1061.91M1111.31 1060.64 1111.45 1060.61 1112.93 1060.25 1114.42 1059.9 1115.9 1059.55 1117.39 1059.2 1118.87 1058.85 1120.36 1058.5 1120.48 1058.47M1125.94 1057.18 1126 1057.16 1126.29 1057.09 1126.59 1057.02 1126.89 1056.95 1127.18 1056.88 1127.48 1056.81 1127.78 1056.74 1128.08 1056.67 1128.37 1056.6 1128.38 1056.6M1133.76 1055.33 1134.01 1055.27 1135.5 1054.92 1136.98 1054.57 1138.47 1054.22 1139.95 1053.86 1141.44 1053.51 1142.92 1053.16 1142.93 1053.16M1148.39 1051.87 1148.56 1051.83 1148.86 1051.76 1149.16 1051.69 1149.45 1051.62 1149.75 1051.55 1150.05 1051.48 1150.34 1051.41 1150.64 1051.34 1150.83 1051.29M1156.22 1050.02 1156.28 1050 1157.77 1049.65 1159.25 1049.3 1160.73 1048.95 1162.22 1048.6 1163.7 1048.25 1165.19 1047.9 1165.38 1047.85M1170.85 1046.56 1171.13 1046.5 1171.42 1046.43 1171.72 1046.36 1172.02 1046.29 1172.31 1046.22 1172.61 1046.15 1172.91 1046.08 1173.2 1046.01 1173.29 1045.99M1178.67 1044.71 1178.85 1044.67 1180.33 1044.32 1181.81 1043.97 1183.3 1043.62 1184.78 1043.27 1186.27 1042.92 1187.75 1042.57 1187.84 1042.55M1193.3 1041.26 1193.39 1041.24 1193.69 1041.17 1193.99 1041.09 1194.28 1041.02 1194.58 1040.95 1194.88 1040.88 1195.17 1040.81 1195.47 1040.74 1195.74 1040.68M1201.13 1039.41 1201.41 1039.34 1202.89 1038.99 1204.38 1038.64 1205.86 1038.29 1207.35 1037.94 1208.83 1037.59 1210.29 1037.24M1215.76 1035.95 1215.96 1035.91 1216.25 1035.84 1216.55 1035.77 1216.85 1035.7 1217.15 1035.63 1217.44 1035.56 1217.74 1035.49 1218.04 1035.42 1218.2 1035.38M1223.58 1034.11 1223.68 1034.08 1225.16 1033.73 1226.65 1033.38 1228.13 1033.03 1229.62 1032.68 1231.1 1032.33 1232.58 1031.98 1232.75 1031.94M1238.22 1030.65 1238.23 1030.65 1238.52 1030.58 1238.82 1030.51 1239.12 1030.44 1239.41 1030.37 1239.71 1030.3 1240.01 1030.23 1240.3 1030.16 1240.6 1030.09 1240.66 1030.07M1246.04 1028.8 1246.24 1028.76 1247.73 1028.41 1249.21 1028.06 1250.69 1027.71 1252.18 1027.36 1253.66 1027.01 1255.15 1026.66 1255.21 1026.64M1260.68 1025.35 1260.79 1025.32 1261.09 1025.25 1261.38 1025.18 1261.68 1025.11 1261.98 1025.04 1262.27 1024.97 1262.57 1024.9 1262.87 1024.83 1263.12 1024.77M1268.5 1023.5 1268.51 1023.5 1269.99 1023.15 1271.48 1022.8 1272.96 1022.45 1274.45 1022.1 1275.93 1021.75 1277.42 1021.4 1277.67 1021.34M1283.14 1020.05 1283.35 1020 1283.65 1019.93 1283.95 1019.86 1284.24 1019.79 1284.54 1019.72 1284.84 1019.65 1285.14 1019.58 1285.43 1019.51 1285.58 1019.48M1290.97 1018.21 1291.07 1018.18 1292.56 1017.83 1294.04 1017.48 1295.53 1017.13 1297.01 1016.78 1298.5 1016.43 1299.98 1016.08 1300.14 1016.04M1305.6 1014.75 1305.62 1014.75 1305.92 1014.68 1306.22 1014.61 1306.51 1014.54 1306.81 1014.47 1307.11 1014.4 1307.4 1014.33 1307.7 1014.26 1308 1014.19 1308.04 1014.18M1313.43 1012.91 1313.64 1012.86 1315.12 1012.51 1316.61 1012.16 1318.09 1011.81 1319.58 1011.46 1321.06 1011.11 1322.54 1010.76 1322.6 1010.75M1328.07 1009.46 1328.19 1009.43 1328.48 1009.36 1328.78 1009.29 1329.08 1009.22 1329.37 1009.15 1329.67 1009.08 1329.97 1009.01 1330.26 1008.94 1330.51 1008.88M1335.89 1007.62 1335.91 1007.61 1337.39 1007.26 1338.87 1006.91 1340.36 1006.56 1341.84 1006.21 1343.33 1005.86 1344.81 1005.51 1345.06 1005.45M1350.53 1004.17 1350.75 1004.11 1351.05 1004.04 1351.34 1003.97 1351.64 1003.9 1351.94 1003.83 1352.23 1003.76 1352.53 1003.69 1352.83 1003.62 1352.97 1003.59M1358.36 1002.32 1358.47 1002.3 1359.95 1001.95 1361.44 1001.6 1362.92 1001.25 1364.41 1000.9 1365.89 1000.55 1367.38 1000.2 1367.53 1000.16M1373 998.87 1373.02 998.87 1373.31 998.8 1373.61 998.73 1373.91 998.66 1374.21 998.59 1374.5 998.52 1374.8 998.45 1375.1 998.38 1375.39 998.31 1375.44 998.3M1380.82 997.03 1381.03 996.98 1381.33 996.91 1381.63 996.84 1381.92 996.77 1382.22 996.7 1382.52 996.63 1382.82 996.56 1383.11 996.49 1383.41 996.42 1383.71 996.35 1384 996.28 1384.3 996.21" fill="none" stroke="#4a3ac8" stroke-width="2.6" stroke-linejoin="round"/>
<path d="M790.5 1138.5 790.56 1138.5 792.1 1137.69 793.65 1136.02 795.19 1134.02 796.73 1131.97 798.28 1129.99 799.82 1128.12 800.02 1127.89M803.17 1124.46 803.21 1124.41 804.93 1122.7 806.65 1121.07 808.37 1119.51 810.1 1118.01 811.82 1116.53 813.54 1115.09 813.62 1115.02M817.18 1112.1 817.22 1112.07 819 1110.63 820.78 1109.19 822.57 1107.76 824.35 1106.34 826.13 1104.92 827.91 1103.5 828.15 1103.31M831.75 1100.44 831.77 1100.43 832.96 1099.49 834.14 1098.55 835.33 1097.6 836.52 1096.66 837.71 1095.72 842.46 1091.95 842.76 1091.71M846.37 1088.84 846.61 1088.65 848.4 1087.24 850.18 1085.83 851.96 1084.41 853.74 1083 855.52 1081.59 857.3 1080.18 857.39 1080.11M861 1077.25 861.16 1077.12 862.94 1075.7 864.73 1074.29 866.51 1072.88 868.29 1071.47 870.07 1070.06 871.85 1068.64 872.01 1068.52M875.62 1065.65 875.71 1065.58 877.49 1064.17 879.27 1062.76 881.05 1061.35 882.84 1059.94 884.62 1058.53 886.4 1057.11 886.64 1056.92M890.25 1054.06 890.26 1054.06 892.04 1052.64 893.82 1051.23 895.6 1049.82 897.38 1048.41 899.17 1047 900.95 1045.59 901.27 1045.33M904.88 1042.47 905.1 1042.29 906.88 1040.88 908.67 1039.47 910.45 1038.06 912.23 1036.65 914.01 1035.24 915.79 1033.83 915.9 1033.74M919.51 1030.88 919.65 1030.77 921.43 1029.36 923.21 1027.95 925 1026.54 926.78 1025.13 928.56 1023.72 930.34 1022.31 930.53 1022.16M934.14 1019.3 934.2 1019.25 935.98 1017.84 937.76 1016.43 939.54 1015.02 941.33 1013.61 943.11 1012.2 944.89 1010.79 945.16 1010.57M948.77 1007.71 949.04 1007.5 950.83 1006.09 952.61 1004.68 954.39 1003.27 956.17 1001.86 957.95 1000.45 959.73 999.04 959.79 998.99M963.4 996.13 963.59 995.98 965.37 994.57 967.16 993.16 968.94 991.75 970.72 990.34 972.5 988.93 974.28 987.52 974.43 987.41M978.04 984.55 978.14 984.47 979.92 983.06 981.7 981.65 983.48 980.24 985.27 978.83 987.05 977.42 988.83 976.01 989.06 975.83M992.68 972.97 992.69 972.96 994.47 971.55 996.25 970.14 998.03 968.73 999.81 967.32 1001.6 965.91 1003.38 964.51 1003.7 964.25M1007.31 961.39 1007.53 961.22 1009.32 959.81 1011.1 958.4 1012.88 956.99 1014.66 955.58 1016.44 954.17 1018.22 952.77 1018.34 952.67M1021.95 949.82 1022.08 949.71 1023.86 948.31 1025.64 946.9 1027.43 945.49 1029.21 944.08 1030.99 942.67 1032.77 941.26 1032.98 941.1M1036.59 938.24 1036.63 938.21 1038.41 936.81 1040.19 935.4 1041.97 933.99 1043.76 932.58 1045.54 931.17 1047.32 929.77 1047.62 929.53M1051.24 926.67 1051.48 926.48 1053.26 925.07 1055.04 923.67 1056.82 922.26 1058.6 920.85 1060.38 919.44 1062.16 918.04 1062.26 917.96M1065.88 915.1 1066.02 914.99 1067.8 913.58 1069.59 912.17 1071.37 910.76 1073.15 909.36 1074.93 907.95 1076.71 906.54 1076.91 906.39M1080.52 903.53 1080.57 903.49 1082.35 902.09 1084.13 900.68 1085.92 899.27 1087.7 897.87 1089.48 896.46 1091.26 895.05 1091.55 894.82M1095.17 891.96 1095.42 891.77 1097.2 890.36 1098.98 888.96 1100.76 887.55 1102.54 886.14 1104.32 884.74 1106.1 883.33 1106.2 883.25M1109.82 880.4 1109.96 880.28 1111.75 878.88 1113.53 877.47 1115.31 876.06 1117.09 874.66 1118.87 873.25 1120.65 871.85 1120.85 871.69M1124.47 868.83 1124.51 868.8 1126.29 867.39 1128.08 865.99 1129.86 864.58 1131.64 863.17 1133.42 861.77 1135.2 860.36 1135.5 860.13M1139.12 857.27 1139.36 857.08 1141.14 855.68 1142.92 854.27 1144.7 852.87 1146.48 851.46 1148.26 850.06 1150.05 848.65 1150.15 848.57M1153.77 845.71 1153.91 845.61 1155.69 844.2 1157.47 842.79 1159.25 841.39 1161.03 839.98 1162.81 838.58 1164.59 837.17 1164.81 837.01M1168.42 834.15 1168.45 834.13 1170.24 832.72 1172.02 831.32 1173.8 829.91 1175.58 828.51 1177.36 827.11 1179.14 825.7 1179.46 825.45M1183.08 822.6 1183.3 822.42 1185.08 821.02 1186.86 819.61 1188.64 818.21 1190.42 816.8 1192.21 815.4 1193.99 814 1194.12 813.89M1197.73 811.04 1197.85 810.95 1199.63 809.55 1201.41 808.14 1203.19 806.74 1204.97 805.34 1206.75 803.93 1208.54 802.53 1208.77 802.34M1212.39 799.49 1212.39 799.49 1214.18 798.08 1215.96 796.68 1217.74 795.27 1219.52 793.87 1221.3 792.47 1223.08 791.06 1223.43 790.79M1227.05 787.94 1227.24 787.79 1229.02 786.38 1230.8 784.98 1232.58 783.58 1234.37 782.17 1236.15 780.77 1237.93 779.37 1238.09 779.24M1241.71 776.39 1241.79 776.33 1243.57 774.92 1245.35 773.52 1247.13 772.12 1248.91 770.71 1250.69 769.31 1252.48 767.91 1252.75 767.69M1256.37 764.84 1256.63 764.63 1258.41 763.23 1260.2 761.83 1261.98 760.43 1263.76 759.02 1265.54 757.62 1267.32 756.22 1267.42 756.14M1271.04 753.29 1271.18 753.18 1272.96 751.78 1274.74 750.37 1276.53 748.97 1278.31 747.57 1280.09 746.17 1281.87 744.76 1282.08 744.6M1285.7 741.75 1285.73 741.73 1287.51 740.32 1289.29 738.92 1291.07 737.52 1292.85 736.12 1294.64 734.72 1296.42 733.31 1296.75 733.06M1300.37 730.21 1300.57 730.04 1302.36 728.64 1304.14 727.24 1305.92 725.84 1307.7 724.44 1309.48 723.03 1311.26 721.63 1311.41 721.51M1315.03 718.67 1315.12 718.6 1316.9 717.19 1318.69 715.79 1320.47 714.39 1322.25 712.99 1324.03 711.59 1325.81 710.19 1326.08 709.98M1329.7 707.13 1329.97 706.92 1331.75 705.52 1333.53 704.12 1335.31 702.71 1337.09 701.31 1338.87 699.91 1340.66 698.51 1340.75 698.44M1344.37 695.59 1344.52 695.48 1346.3 694.08 1348.08 692.67 1349.86 691.27 1351.64 689.87 1353.42 688.47 1355.2 687.07 1355.42 686.9M1359.04 684.05 1359.06 684.04 1360.84 682.64 1362.63 681.24 1364.41 679.84 1366.19 678.44 1367.97 677.04 1369.75 675.64 1370.09 675.37M1373.72 672.52 1373.91 672.37 1375.39 671.2 1376.88 670.04 1378.36 668.87 1379.85 667.7 1381.33 666.54 1382.82 665.37 1384.3 664.2" fill="none" stroke="#1c1878" stroke-width="2.6" stroke-linejoin="round"/>
<path d="M401.8 1262.7 V1741 H906.9 M394.6 1741 H401.8 M394.6 1645.34 H401.8 M394.6 1549.68 H401.8 M394.6 1454.02 H401.8 M394.6 1358.36 H401.8 M394.6 1262.7 H401.8 M401.8 1741 V1748.2 M502.82 1741 V1748.2 M603.84 1741 V1748.2 M704.86 1741 V1748.2 M805.88 1741 V1748.2 M906.9 1741 V1748.2" fill="none" stroke="#c2c2c2" stroke-width="2"/>
<path d="M401.8 1741 401.85 1740.99 401.9 1740.98 401.95 1740.97 402 1740.96 402.05 1740.95 402.1 1740.94 402.14 1740.93M410.92 1740.4 410.94 1740.4 410.99 1740.39 411.04 1740.39 411.09 1740.39 411.14 1740.39 411.19 1740.38 411.25 1740.38 411.3 1740.38 411.3 1740.38M420.04 1739.8 420.08 1739.79 420.14 1739.79 420.19 1739.79 420.24 1739.78 420.29 1739.78 420.34 1739.78 420.39 1739.77 420.42 1739.77M429.13 1739.16 429.18 1739.16 429.23 1739.16 429.28 1739.15 429.33 1739.15 429.38 1739.15 429.43 1739.14 429.48 1739.14 429.51 1739.14M438.22 1738.53 438.27 1738.52 438.32 1738.52 438.37 1738.52 438.42 1738.51 438.47 1738.51 438.52 1738.51 438.57 1738.5 438.6 1738.5M447.31 1737.89 447.51 1737.88 447.69 1737.86M456.4 1737.25 456.6 1737.24 456.78 1737.23M465.49 1736.62 465.7 1736.6 465.87 1736.59M474.58 1735.98 474.79 1735.97 474.96 1735.95M483.68 1735.34 483.88 1735.33 484.05 1735.32M492.77 1734.71 492.97 1734.69 493.14 1734.68M501.86 1734.07 502.06 1734.06 502.24 1734.04M510.95 1733.44 511.15 1733.42 511.33 1733.41M520.04 1732.8 520.25 1732.78 520.42 1732.77M529.13 1732.16 529.34 1732.15 529.51 1732.14M538.22 1731.53 538.43 1731.51 538.6 1731.5M547.31 1730.89 547.52 1730.88 547.69 1730.87M556.41 1730.26 556.61 1730.24 556.78 1730.23M565.5 1729.62 565.7 1729.61 565.88 1729.59M574.59 1728.99 574.8 1728.97 574.97 1728.96M583.68 1728.35 583.89 1728.34 584.06 1728.32M592.77 1727.72 592.98 1727.7 593.15 1727.69M601.87 1727.08 602.07 1727.07 602.24 1727.06M610.96 1726.45 611.16 1726.43 611.34 1726.42M620.05 1725.81 620.26 1725.8 620.43 1725.79M629.14 1725.18 629.35 1725.16 629.52 1725.15M638.23 1724.54 638.44 1724.53 638.61 1724.52M647.33 1723.91 647.53 1723.9 647.71 1723.88M656.42 1723.28 656.62 1723.26 656.8 1723.25M665.51 1722.64 665.71 1722.63 665.89 1722.62M674.61 1722.01 674.81 1721.99 674.99 1721.98M683.7 1721.37 683.9 1721.36 684.08 1721.35M692.79 1720.74 692.99 1720.73 693.17 1720.71M701.89 1720.11 702.08 1720.09 702.27 1720.08M710.98 1719.47 711.17 1719.46 711.36 1719.45M720.07 1718.84 720.27 1718.83 720.45 1718.82M729.17 1718.21 729.36 1718.2 729.55 1718.18M738.26 1717.58 738.45 1717.56 738.64 1717.55M747.35 1716.94 747.54 1716.93 747.73 1716.92M756.45 1716.31 756.63 1716.3 756.83 1716.28M765.54 1715.68 765.72 1715.67 765.92 1715.65M774.64 1715.05 774.82 1715.03 775.02 1715.02M783.73 1714.41 783.91 1714.4 784.11 1714.39M792.83 1713.78 793 1713.77 793.2 1713.76M801.92 1713.15 802.09 1713.14 802.3 1713.12M811.01 1712.52 811.18 1712.51 811.39 1712.49M820.11 1711.89 820.28 1711.88 820.49 1711.86M829.2 1711.26 829.37 1711.24 829.58 1711.23M838.3 1710.62 838.46 1710.61 838.68 1710.6M847.39 1709.99 847.55 1709.98 847.77 1709.97M856.49 1709.36 856.64 1709.35 856.87 1709.34M865.58 1708.73 865.73 1708.72 865.96 1708.7M874.68 1708.1 874.83 1708.09 875.06 1708.07M883.78 1707.47 883.92 1707.46 884.15 1707.44M892.87 1706.84 893.01 1706.83 893.25 1706.81M901.97 1706.21 902.1 1706.2 902.35 1706.18" fill="none" stroke="#6d5dfb" stroke-width="2.3" stroke-linejoin="round" stroke-linecap="round"/>
<path d="M401.8 1741 401.85 1741 403.42 1740.89 404.98 1740.74 406.55 1740.58 408.11 1740.4 409.68 1740.21 411.25 1740 411.38 1739.98M419.53 1738.78 419.53 1738.78 421.04 1738.55 422.56 1738.32 424.07 1738.08 425.59 1737.85 427.11 1737.62 428.62 1737.38 428.78 1737.36M436.88 1736.1 436.9 1736.1 437.91 1735.94 438.92 1735.78 439.94 1735.63 440.95 1735.47 441.96 1735.31 446 1734.69 446.13 1734.66M454.23 1733.41 454.33 1733.39 455.85 1733.16 457.36 1732.93 458.88 1732.69 460.39 1732.46 461.91 1732.22 463.42 1731.99 463.48 1731.98M471.58 1730.73 471.76 1730.7 473.27 1730.47 474.79 1730.23 476.3 1730 477.82 1729.76 479.33 1729.53 480.84 1729.3M488.94 1728.05 489.18 1728.01 490.7 1727.78 492.21 1727.55 493.73 1727.31 495.24 1727.08 496.76 1726.85 498.2 1726.62M506.3 1725.38 506.36 1725.37 507.87 1725.14 509.39 1724.9 510.9 1724.67 512.42 1724.44 513.93 1724.21 515.45 1723.97 515.56 1723.95M523.67 1722.71 523.78 1722.69 525.3 1722.46 526.81 1722.23 528.33 1722 529.84 1721.77 531.36 1721.53 532.87 1721.3 532.93 1721.29M541.04 1720.05 541.21 1720.03 542.72 1719.79 544.24 1719.56 545.75 1719.33 547.27 1719.1 548.78 1718.87 550.3 1718.64 550.31 1718.63M558.42 1717.4 558.63 1717.36 560.15 1717.13 561.66 1716.9 563.18 1716.67 564.69 1716.44 566.21 1716.21 567.69 1715.98M575.8 1714.75 575.81 1714.75 577.32 1714.52 578.84 1714.28 580.35 1714.05 581.87 1713.82 583.38 1713.59 584.9 1713.36 585.07 1713.34M593.18 1712.1 593.23 1712.1 594.75 1711.87 596.26 1711.64 597.78 1711.41 599.29 1711.18 600.81 1710.95 602.32 1710.72 602.46 1710.7M610.57 1709.47 610.66 1709.45 612.17 1709.22 613.69 1708.99 615.2 1708.76 616.72 1708.53 618.24 1708.3 619.75 1708.08 619.85 1708.06M627.97 1706.83 628.08 1706.81 629.6 1706.59 631.12 1706.36 632.63 1706.13 634.15 1705.9 635.66 1705.67 637.18 1705.44 637.24 1705.43M645.36 1704.21 645.51 1704.18 647.03 1703.96 648.54 1703.73 650.06 1703.5 651.57 1703.27 653.09 1703.04 654.6 1702.81 654.65 1702.81M662.77 1701.58 662.94 1701.56 664.45 1701.33 665.97 1701.1 667.48 1700.87 669 1700.65 670.51 1700.42 672.03 1700.19 672.05 1700.19M680.17 1698.97 680.36 1698.94 681.88 1698.71 683.39 1698.48 684.91 1698.26 686.42 1698.03 687.94 1697.8 689.45 1697.57 689.46 1697.57M697.58 1696.36 697.79 1696.33 699.3 1696.1 700.82 1695.87 702.33 1695.64 703.85 1695.42 705.37 1695.19 706.87 1694.97M715 1693.75 715.21 1693.72 716.73 1693.49 718.25 1693.27 719.76 1693.04 721.28 1692.81 722.79 1692.59 724.29 1692.36M732.42 1691.15 732.64 1691.12 734.16 1690.89 735.67 1690.66 737.19 1690.44 738.7 1690.21 740.22 1689.99 741.71 1689.76M749.84 1688.55 750.07 1688.52 751.58 1688.29 753.1 1688.07 754.61 1687.84 756.13 1687.62 757.64 1687.39 759.14 1687.17M767.27 1685.96 767.49 1685.93 769.01 1685.7 770.52 1685.48 772.04 1685.25 773.55 1685.03 775.07 1684.81 776.57 1684.58M784.7 1683.38 784.92 1683.35 786.43 1683.12 787.95 1682.9 789.46 1682.67 790.98 1682.45 792.49 1682.22 794 1682M802.14 1680.8 802.34 1680.77 803.86 1680.54 805.37 1680.32 806.89 1680.09 808.41 1679.87 809.92 1679.65 811.44 1679.42 811.44 1679.42M819.58 1678.22 819.77 1678.19 821.29 1677.97 822.8 1677.75 824.32 1677.52 825.83 1677.3 827.35 1677.08 828.86 1676.85 828.88 1676.85M837.02 1675.65 837.2 1675.62 838.71 1675.4 840.23 1675.18 841.74 1674.96 843.26 1674.73 844.77 1674.51 846.29 1674.29 846.32 1674.28M854.47 1673.08 854.62 1673.06 856.14 1672.84 857.65 1672.62 859.17 1672.39 860.68 1672.17 862.2 1671.95 863.71 1671.73 863.77 1671.72M871.92 1670.52 872.05 1670.5 873.56 1670.28 875.08 1670.06 876.59 1669.84 878.11 1669.62 879.62 1669.39 881.14 1669.17 881.23 1669.16M889.37 1667.97 889.47 1667.95 890.99 1667.73 892.5 1667.51 894.02 1667.29 895.54 1667.07 897.05 1666.84 898.57 1666.62 898.68 1666.61M906.83 1665.42 906.9 1665.41" fill="none" stroke="#604cec" stroke-width="2.3" stroke-linejoin="round"/>
<path d="M401.8 1741 401.85 1741 402.2 1740.97 402.56 1740.91 402.91 1740.82 403.26 1740.71 403.62 1740.59 403.97 1740.44 404.18 1740.35M408.83 1738.17 408.87 1738.15 410.24 1737.57 411.6 1737.02 412.96 1736.52 414.33 1736.04 415.69 1735.58 417.05 1735.14 417.26 1735.08M422.5 1733.51 422.51 1733.5 422.86 1733.4 423.22 1733.3 423.57 1733.2 423.92 1733.1 424.28 1732.99 424.63 1732.89 424.86 1732.83M430.08 1731.35 430.09 1731.35 431.55 1730.94 433.02 1730.53 434.48 1730.12 435.94 1729.71 437.41 1729.3 438.87 1728.89 438.99 1728.86M444.3 1727.37 444.48 1727.32 444.73 1727.25 444.99 1727.18 445.24 1727.11 445.49 1727.04 445.74 1726.97 446 1726.9 446.25 1726.83 446.5 1726.76 446.67 1726.71M451.9 1725.25 452.06 1725.21 453.32 1724.86 454.58 1724.51 455.85 1724.15 457.11 1723.8 458.37 1723.45 459.63 1723.1 460.81 1722.77M466.13 1721.29 466.2 1721.27 466.45 1721.2 466.71 1721.13 466.96 1721.06 467.21 1720.99 467.46 1720.92 467.72 1720.84 467.97 1720.77 468.22 1720.7 468.47 1720.63 468.5 1720.63M473.73 1719.17 473.78 1719.16 475.29 1718.73 476.81 1718.31 478.32 1717.89 479.84 1717.47 481.35 1717.04 482.65 1716.68M487.96 1715.2 488.17 1715.14 488.42 1715.07 488.68 1715 488.93 1714.93 489.18 1714.86 489.43 1714.79 489.69 1714.72 489.94 1714.65 490.19 1714.58 490.33 1714.54M495.57 1713.08 495.75 1713.03 497.01 1712.68 498.27 1712.33 499.54 1711.98 500.8 1711.63 502.06 1711.27 503.33 1710.92 504.48 1710.6M509.8 1709.12 509.89 1709.09 510.14 1709.02 510.4 1708.95 510.65 1708.88 510.9 1708.81 511.15 1708.74 511.41 1708.67 511.66 1708.6 511.91 1708.53 512.16 1708.46 512.17 1708.46M517.4 1707 517.47 1706.98 518.98 1706.56 520.5 1706.14 522.01 1705.72 523.53 1705.29 525.04 1704.87 526.32 1704.52M531.63 1703.04 531.86 1702.97 532.12 1702.9 532.37 1702.83 532.62 1702.76 532.87 1702.69 533.13 1702.62 533.38 1702.55 533.63 1702.48 533.88 1702.41 534 1702.38M539.24 1700.92 539.44 1700.87 540.7 1700.51 541.97 1700.16 543.23 1699.81 544.49 1699.46 545.75 1699.11 547.02 1698.76 548.15 1698.44M553.47 1696.96 553.58 1696.93 553.84 1696.86 554.09 1696.79 554.34 1696.72 554.59 1696.65 554.85 1696.58 555.1 1696.51 555.35 1696.44 555.6 1696.37 555.84 1696.3M561.08 1694.84 561.16 1694.82 562.42 1694.47 563.68 1694.12 564.95 1693.77 566.21 1693.42 567.47 1693.06 568.74 1692.71 569.99 1692.36M575.31 1690.88 575.55 1690.82 575.81 1690.75 576.06 1690.68 576.31 1690.61 576.56 1690.54 576.82 1690.46 577.07 1690.39 577.32 1690.32 577.57 1690.25 577.68 1690.22M582.92 1688.77 583.13 1688.71 584.39 1688.36 585.66 1688.01 586.92 1687.66 588.18 1687.3 589.44 1686.95 590.71 1686.6 591.83 1686.29M597.15 1684.81 597.27 1684.78 597.53 1684.71 597.78 1684.64 598.03 1684.57 598.28 1684.5 598.54 1684.42 598.79 1684.35 599.04 1684.28 599.29 1684.21 599.52 1684.15M604.76 1682.7 604.85 1682.67 606.11 1682.32 607.38 1681.97 608.64 1681.62 609.9 1681.27 611.16 1680.91 612.43 1680.56 613.67 1680.22M618.99 1678.74 618.99 1678.74 619.25 1678.67 619.5 1678.6 619.75 1678.53 620 1678.46 620.26 1678.39 620.51 1678.32 620.76 1678.25 621.01 1678.18 621.27 1678.11 621.36 1678.08M626.6 1676.62 626.82 1676.56 628.08 1676.21 629.35 1675.86 630.61 1675.51 631.87 1675.16 633.14 1674.81 634.4 1674.46 635.52 1674.15M640.84 1672.67 640.96 1672.63 641.22 1672.56 641.47 1672.49 641.72 1672.42 641.98 1672.35 642.23 1672.28 642.48 1672.21 642.73 1672.14 642.99 1672.07 643.21 1672.01M648.44 1670.56 648.54 1670.53 649.8 1670.18 651.07 1669.83 652.33 1669.48 653.59 1669.13 654.86 1668.78 656.12 1668.42 657.36 1668.08M662.68 1666.6 662.68 1666.6 662.94 1666.53 663.19 1666.46 663.44 1666.39 663.69 1666.32 663.95 1666.25 664.2 1666.18 664.45 1666.11 664.7 1666.04 664.96 1665.97 665.05 1665.94M670.29 1664.49 670.51 1664.43 671.78 1664.08 673.04 1663.73 674.3 1663.38 675.56 1663.02 676.83 1662.67 678.09 1662.32 679.21 1662.01M684.53 1660.54 684.66 1660.5 684.91 1660.43 685.16 1660.36 685.41 1660.29 685.67 1660.22 685.92 1660.15 686.17 1660.08 686.42 1660.01 686.68 1659.94 686.9 1659.88M692.14 1658.42 692.23 1658.4 693.5 1658.05 694.76 1657.7 696.02 1657.35 697.28 1657 698.55 1656.65 699.81 1656.3 701.06 1655.95M706.38 1654.47 706.63 1654.4 706.88 1654.33 707.13 1654.26 707.39 1654.19 707.64 1654.12 707.89 1654.05 708.14 1653.98 708.4 1653.91 708.65 1653.84 708.75 1653.81M713.99 1652.36 714.2 1652.3 715.47 1651.95 716.73 1651.6 717.99 1651.25 719.26 1650.9 720.52 1650.55 721.78 1650.2 722.91 1649.89M728.23 1648.41 728.35 1648.38 728.6 1648.31 728.85 1648.24 729.1 1648.17 729.36 1648.1 729.61 1648.03 729.86 1647.96 730.12 1647.89 730.37 1647.82 730.6 1647.75M735.84 1646.3 735.92 1646.28 737.19 1645.93 738.45 1645.58 739.71 1645.23 740.97 1644.88 742.24 1644.53 743.5 1644.18 744.76 1643.83M750.08 1642.35 750.32 1642.29 750.57 1642.22 750.82 1642.15 751.08 1642.08 751.33 1642.01 751.58 1641.94 751.83 1641.87 752.09 1641.8 752.34 1641.73 752.46 1641.7M757.69 1640.24 757.9 1640.19 759.16 1639.84 760.42 1639.49 761.68 1639.14 762.95 1638.79 764.21 1638.44 765.47 1638.09 766.62 1637.77M771.94 1636.3 772.04 1636.27 772.29 1636.2 772.54 1636.13 772.8 1636.06 773.05 1635.99 773.3 1635.92 773.55 1635.85 773.81 1635.78 774.06 1635.71 774.31 1635.64M779.55 1634.19 779.61 1634.17 781.13 1633.75 782.65 1633.33 784.16 1632.91 785.68 1632.49 787.19 1632.07 788.47 1631.72M793.79 1630.24 794.01 1630.18 794.26 1630.11 794.52 1630.04 794.77 1629.97 795.02 1629.9 795.27 1629.83 795.53 1629.76 795.78 1629.69 796.03 1629.62 796.17 1629.58M801.41 1628.13 801.59 1628.08 802.85 1627.73 804.11 1627.38 805.37 1627.03 806.64 1626.68 807.9 1626.33 809.16 1625.99 810.33 1625.66M815.65 1624.19 815.73 1624.17 815.98 1624.1 816.23 1624.03 816.49 1623.96 816.74 1623.89 816.99 1623.82 817.24 1623.75 817.5 1623.68 817.75 1623.61 818 1623.54 818.03 1623.53M823.27 1622.08 823.31 1622.07 824.82 1621.65 826.34 1621.23 827.85 1620.81 829.37 1620.39 830.88 1619.97 832.19 1619.61M837.51 1618.14 837.7 1618.09 837.95 1618.02 838.21 1617.95 838.46 1617.88 838.71 1617.81 838.96 1617.74 839.22 1617.67 839.47 1617.6 839.72 1617.53 839.89 1617.48M845.13 1616.03 845.28 1615.99 846.54 1615.64 847.8 1615.29 849.07 1614.94 850.33 1614.59 851.59 1614.24 852.85 1613.89 854.05 1613.56M859.37 1612.09 859.42 1612.08 859.67 1612.01 859.93 1611.94 860.18 1611.87 860.43 1611.8 860.68 1611.73 860.94 1611.66 861.19 1611.59 861.44 1611.52 861.69 1611.45 861.75 1611.43M866.99 1609.98 867 1609.98 868.51 1609.56 870.03 1609.14 871.54 1608.72 873.06 1608.31 874.57 1607.89 875.91 1607.52M881.24 1606.04 881.39 1606 881.64 1605.93 881.9 1605.86 882.15 1605.79 882.4 1605.72 882.66 1605.65 882.91 1605.58 883.16 1605.51 883.41 1605.44 883.61 1605.39M888.85 1603.94 888.97 1603.91 890.23 1603.56 891.49 1603.21 892.76 1602.86 894.02 1602.51 895.28 1602.16 896.55 1601.81 897.78 1601.47M903.1 1600 903.11 1600 903.36 1599.93 903.62 1599.86 903.87 1599.79 904.12 1599.72 904.37 1599.65 904.63 1599.58 904.88 1599.51 905.13 1599.44 905.38 1599.37 905.48 1599.34" fill="none" stroke="#4a3ac8" stroke-width="2.3" stroke-linejoin="round"/>
<path d="M401.8 1741 401.85 1740.86 401.9 1740.7 401.92 1740.65M403.71 1731.38 403.72 1731.32 403.77 1731.06 403.79 1730.98M405.91 1722.14 405.94 1722.02 405.99 1721.84 406.01 1721.77M408.58 1713.47 408.62 1713.34 408.67 1713.19 408.69 1713.12M411.58 1705.23 411.6 1705.2 411.65 1705.07 411.7 1704.95 411.72 1704.9M415.12 1697.65 415.13 1697.62 415.19 1697.53 415.24 1697.44 415.28 1697.35M419.48 1691.09 419.48 1691.09 419.53 1691.03 419.58 1690.97 419.63 1690.91 419.68 1690.85M424.89 1685.87 424.93 1685.83 424.98 1685.8 425.03 1685.76 425.09 1685.72 425.14 1685.68 425.14 1685.68M431.34 1681.92 431.35 1681.92 431.4 1681.9 431.45 1681.87 431.5 1681.84 431.55 1681.82 431.6 1681.8 431.63 1681.78M438.49 1678.86 438.52 1678.85 438.57 1678.83 438.62 1678.81 438.67 1678.79 438.72 1678.77 438.77 1678.75 438.79 1678.74M446 1676.25 446.25 1676.17 446.32 1676.15M453.7 1673.88 453.83 1673.84 454.03 1673.78M461.52 1671.65 461.65 1671.62 461.85 1671.56M469.44 1669.54 469.48 1669.53 469.74 1669.47 469.77 1669.46M477.43 1667.54 477.56 1667.51 477.77 1667.46M485.5 1665.63 485.65 1665.6 485.84 1665.55M493.65 1663.81 493.73 1663.79 493.98 1663.73 493.99 1663.73M501.86 1662.07 502.06 1662.03 502.2 1662M510.13 1660.41 510.14 1660.41 510.4 1660.36 510.47 1660.34M518.46 1658.82 518.48 1658.82 518.73 1658.77 518.81 1658.76M526.85 1657.31 527.06 1657.27 527.2 1657.24M535.28 1655.85 535.4 1655.83 535.64 1655.79M543.77 1654.46 543.99 1654.43 544.12 1654.41M552.3 1653.13 552.32 1653.12 552.57 1653.09 552.66 1653.07M560.88 1651.85 560.91 1651.84 561.16 1651.8 561.23 1651.79M569.49 1650.61 569.49 1650.61 569.75 1650.58 569.85 1650.56M578.14 1649.43 578.33 1649.4 578.5 1649.38M586.83 1648.28 586.92 1648.27 587.17 1648.24 587.19 1648.24M595.55 1647.18 595.76 1647.16 595.91 1647.14M604.29 1646.12 604.35 1646.11 604.6 1646.08 604.66 1646.07M613.07 1645.09 613.18 1645.07 613.44 1645.05M621.87 1644.09 622.02 1644.08 622.24 1644.05M630.7 1643.13 630.86 1643.11 631.07 1643.09M639.55 1642.19 639.7 1642.18 639.92 1642.15M648.43 1641.28 648.54 1641.27 648.79 1641.25 648.8 1641.24M657.32 1640.4 657.38 1640.39 657.63 1640.37 657.69 1640.36M666.23 1639.54 666.47 1639.52 666.6 1639.51M675.16 1638.7 675.31 1638.69 675.54 1638.67M684.11 1637.89 684.15 1637.89 684.4 1637.86 684.48 1637.86M693.08 1637.09 693.24 1637.08 693.45 1637.06M702.06 1636.32 702.08 1636.32 702.33 1636.3 702.43 1636.29M711.05 1635.56 711.17 1635.55 711.42 1635.53M720.06 1634.82 720.27 1634.8 720.43 1634.79M729.08 1634.1 729.1 1634.1 729.36 1634.08 729.45 1634.07M738.11 1633.39 738.2 1633.38 738.45 1633.36 738.49 1633.36M747.16 1632.7 747.29 1632.69 747.53 1632.67M756.21 1632.02 756.38 1632 756.59 1631.99M765.28 1631.35 765.47 1631.34 765.66 1631.32M774.36 1630.7 774.56 1630.68 774.73 1630.67M783.44 1630.05 783.66 1630.04 783.82 1630.03M792.54 1629.42 792.75 1629.41 792.92 1629.4M801.65 1628.81 801.84 1628.79 802.02 1628.78M810.76 1628.2 810.93 1628.19 811.14 1628.17M819.88 1627.6 820.02 1627.59 820.26 1627.58M829.01 1627.02 829.11 1627.01 829.37 1626.99 829.39 1626.99M838.15 1626.44 838.21 1626.43 838.46 1626.42 838.53 1626.41M847.3 1625.87 847.3 1625.87 847.55 1625.86 847.68 1625.85M856.45 1625.31 856.64 1625.3 856.83 1625.29M865.61 1624.76 865.73 1624.76 865.99 1624.74 865.99 1624.74M874.78 1624.22 874.83 1624.22 875.08 1624.2 875.16 1624.2M883.95 1623.69 884.17 1623.68 884.33 1623.67M893.13 1623.17 893.26 1623.16 893.51 1623.14M902.32 1622.65 902.35 1622.65 902.61 1622.63 902.7 1622.63" fill="none" stroke="#ee811d" stroke-width="2.3" stroke-linejoin="round" stroke-linecap="round"/>
<path d="M401.8 1741 401.85 1740.99 402.15 1740.55 402.46 1739.57 402.76 1738.15 403.06 1736.42 403.37 1734.45 403.67 1732.3 403.89 1730.62M405.15 1720.81 405.18 1720.52 405.39 1718.94 405.59 1717.38 405.79 1715.84 405.99 1714.32 406.19 1712.83 406.4 1711.36 406.6 1709.92 406.63 1709.67M408.1 1700.13 408.11 1700.07 408.42 1698.3 408.72 1696.6 409.02 1694.96 409.33 1693.38 409.63 1691.86 409.93 1690.4 410.1 1689.62M412.24 1680.93 412.26 1680.88 412.76 1679.15 413.27 1677.51 413.77 1675.97 414.28 1674.52 414.78 1673.15 415.29 1671.85 415.32 1671.77M418.71 1664.64 418.72 1664.63 419.53 1663.26 420.34 1661.99 421.15 1660.82 421.95 1659.72 422.76 1658.69 423.57 1657.73 423.58 1657.72M428.72 1652.77 428.72 1652.76 429.83 1651.89 430.94 1651.06 432.06 1650.28 433.17 1649.53 434.28 1648.81 435.39 1648.13 435.4 1648.12M441.7 1644.62 441.7 1644.62 442.01 1644.46 442.71 1644.1 444.23 1643.34 445.74 1642.61 447.26 1641.88 448.77 1641.18 449.19 1640.99M455.91 1638.01 456.1 1637.93 457.36 1637.39 458.62 1636.86 459.89 1636.34 461.15 1635.82 462.41 1635.31 463.67 1634.8 463.73 1634.78M470.68 1632.09 470.75 1632.07 472.01 1631.59 473.27 1631.13 474.53 1630.66 475.8 1630.21 477.06 1629.75 478.32 1629.3 478.73 1629.16M485.86 1626.7 485.9 1626.69 487.16 1626.27 488.42 1625.86 489.69 1625.44 490.95 1625.03 492.21 1624.63 493.48 1624.23 494.12 1624.02M501.43 1621.78 501.56 1621.74 502.82 1621.37 504.08 1620.99 505.35 1620.63 506.61 1620.26 507.87 1619.9 509.13 1619.54 509.86 1619.33M517.32 1617.28 517.47 1617.24 518.73 1616.9 519.99 1616.57 521.26 1616.24 522.52 1615.91 523.78 1615.58 525.04 1615.26 525.93 1615.03M533.52 1613.15 533.63 1613.12 534.89 1612.82 536.16 1612.52 537.42 1612.22 538.68 1611.92 539.94 1611.63 541.21 1611.34 542.27 1611.09M549.99 1609.36 550.05 1609.35 551.31 1609.07 552.57 1608.8 553.84 1608.53 555.1 1608.26 556.36 1607.99 557.62 1607.73 558.87 1607.47M566.7 1605.87 566.72 1605.87 568.23 1605.57 569.75 1605.27 571.26 1604.98 572.78 1604.68 574.29 1604.39 575.7 1604.12M583.62 1602.65 583.64 1602.65 585.15 1602.38 586.67 1602.1 588.18 1601.83 589.7 1601.56 591.21 1601.3 592.73 1601.03M600.74 1599.67 600.81 1599.66 602.32 1599.41 603.84 1599.16 605.36 1598.91 606.87 1598.66 608.39 1598.42 609.9 1598.17 609.93 1598.17M618.02 1596.9 618.24 1596.87 619.75 1596.64 621.27 1596.41 622.78 1596.18 624.3 1595.95 625.81 1595.72 627.3 1595.5M635.46 1594.32 635.66 1594.29 637.18 1594.08 638.69 1593.86 640.21 1593.65 641.72 1593.44 643.24 1593.23 644.75 1593.02 644.81 1593.01M653.02 1591.9 653.09 1591.9 654.6 1591.7 656.12 1591.5 657.63 1591.3 659.15 1591.1 660.66 1590.91 662.18 1590.71 662.44 1590.68M670.71 1589.64 670.77 1589.63 672.28 1589.44 673.8 1589.26 675.31 1589.07 676.83 1588.89 678.34 1588.71 679.86 1588.52 680.19 1588.48M688.5 1587.5 688.7 1587.48 690.21 1587.3 691.73 1587.13 693.24 1586.96 694.76 1586.78 696.27 1586.61 697.79 1586.44 698.03 1586.41M706.39 1585.48 706.63 1585.46 708.14 1585.29 709.66 1585.13 711.17 1584.96 712.69 1584.8 714.2 1584.64 715.72 1584.47 715.96 1584.45M724.35 1583.57 724.56 1583.54 726.07 1583.39 727.59 1583.23 729.1 1583.08 730.62 1582.92 732.14 1582.77 733.65 1582.61 733.97 1582.58M742.39 1581.74 742.49 1581.73 744.01 1581.58 745.52 1581.43 747.04 1581.28 748.55 1581.14 750.07 1580.99 751.58 1580.84 752.04 1580.8M760.49 1579.99 760.67 1579.98 762.19 1579.83 763.7 1579.69 765.22 1579.55 766.73 1579.41 768.25 1579.27 769.77 1579.13 770.17 1579.09M778.65 1578.32 778.86 1578.3 780.37 1578.16 781.89 1578.03 783.4 1577.89 784.92 1577.76 786.43 1577.62 787.95 1577.49 788.36 1577.45M796.86 1576.71 797.04 1576.69 798.56 1576.56 800.07 1576.43 801.59 1576.3 803.1 1576.17 804.62 1576.04 806.13 1575.91 806.59 1575.87M815.12 1575.15 815.22 1575.14 816.74 1575.01 818.25 1574.88 819.77 1574.76 821.29 1574.63 822.8 1574.51 824.32 1574.38 824.87 1574.34M833.41 1573.64 833.66 1573.62 835.18 1573.49 836.69 1573.37 838.21 1573.25 839.72 1573.13 841.24 1573.01 842.75 1572.89 843.18 1572.85M851.74 1572.17 851.84 1572.16 853.36 1572.04 854.87 1571.92 856.39 1571.81 857.91 1571.69 859.42 1571.57 860.94 1571.45 861.52 1571.41M870.09 1570.74 870.28 1570.73 871.8 1570.61 873.31 1570.5 874.83 1570.38 876.34 1570.26 877.86 1570.15 879.37 1570.03 879.9 1569.99M888.48 1569.35 888.72 1569.33 890.23 1569.22 891.75 1569.1 893.26 1568.99 894.78 1568.88 896.29 1568.76 897.81 1568.65 898.29 1568.62" fill="none" stroke="#c8701f" stroke-width="2.3" stroke-linejoin="round"/>
<path d="M401.8 1741 401.85 1740.99 402.36 1739.69 402.86 1737.04 403.37 1733.76 403.87 1730.28 404.38 1726.8 404.88 1723.44 405.02 1722.53M406.04 1716.42 406.04 1716.39 406.65 1713.09 407.26 1710.03 407.86 1707.19 408.47 1704.53 409.07 1702.03 409.68 1699.69 409.92 1698.78M411.5 1693.37 411.5 1693.37 412.46 1690.4 413.42 1687.64 414.38 1685.06 415.34 1682.64 416.3 1680.37 417.26 1678.23 417.3 1678.13M419.55 1673.56 419.58 1673.5 420.84 1671.16 422.11 1668.95 423.37 1666.86 424.63 1664.86 425.89 1662.95 427.16 1661.12 427.36 1660.83M430.18 1656.97 430.19 1656.96 431.7 1655 433.22 1653.09 434.73 1651.24 436.25 1649.43 437.76 1647.67 439.28 1645.94 439.32 1645.9M442.46 1642.45 442.46 1642.44 443.98 1640.82 445.49 1639.23 447.01 1637.67 448.52 1636.14 450.04 1634.63 451.55 1633.14 452.38 1632.34M455.73 1629.16 455.85 1629.06 457.61 1627.43 459.38 1625.82 461.15 1624.25 462.92 1622.7 464.68 1621.17 466.27 1619.83M469.81 1616.89 469.99 1616.74 471.76 1615.31 473.52 1613.9 475.29 1612.51 477.06 1611.14 478.83 1609.79 480.6 1608.45 480.89 1608.24M484.6 1605.5 484.64 1605.48 486.4 1604.2 488.17 1602.94 489.94 1601.7 491.71 1600.47 493.48 1599.26 495.24 1598.06 496.16 1597.45M500.02 1594.89 500.04 1594.88 502.06 1593.57 504.08 1592.27 506.1 1590.99 508.12 1589.73 510.14 1588.48 511.98 1587.35M515.96 1584.95 516.21 1584.81 518.23 1583.61 520.25 1582.43 522.27 1581.26 524.29 1580.1 526.31 1578.95 528.27 1577.84M532.36 1575.57 532.37 1575.57 534.39 1574.46 536.41 1573.37 538.43 1572.28 540.45 1571.2 542.47 1570.13 544.49 1569.07 544.96 1568.82M549.13 1566.66 549.29 1566.58 551.31 1565.54 553.33 1564.52 555.35 1563.5 557.37 1562.48 559.39 1561.48 561.41 1560.48 561.96 1560.21M566.21 1558.13 566.21 1558.13 568.23 1557.15 570.25 1556.18 572.27 1555.21 574.29 1554.25 576.31 1553.3 578.33 1552.35 579.24 1551.92M583.54 1549.92 583.64 1549.88 585.66 1548.95 587.68 1548.02 589.7 1547.1 591.72 1546.18 593.74 1545.27 595.76 1544.36 596.74 1543.92M601.09 1541.98 601.31 1541.88 603.33 1540.99 605.36 1540.1 607.38 1539.22 609.4 1538.34 611.42 1537.46 613.44 1536.59 614.43 1536.16M618.82 1534.28 618.99 1534.2 621.01 1533.34 623.03 1532.49 625.05 1531.63 627.07 1530.78 629.1 1529.93 631.12 1529.09 632.28 1528.6M636.71 1526.77 636.92 1526.68 638.94 1525.85 640.96 1525.02 642.99 1524.19 645.01 1523.37 647.03 1522.55 649.05 1521.73 650.29 1521.23M654.75 1519.44 654.86 1519.4 657.13 1518.49 659.4 1517.59 661.67 1516.68 663.95 1515.79 666.22 1514.89 668.42 1514.03M672.92 1512.27 673.04 1512.23 675.31 1511.34 677.58 1510.46 679.86 1509.59 682.13 1508.71 684.4 1507.84 686.68 1506.98 686.68 1506.97M691.2 1505.26 691.22 1505.25 693.5 1504.39 695.77 1503.53 698.04 1502.68 700.31 1501.83 702.59 1500.98 704.86 1500.14 705.05 1500.06M709.6 1498.38 709.66 1498.36 711.93 1497.52 714.2 1496.69 716.48 1495.86 718.75 1495.03 721.02 1494.2 723.3 1493.38 723.53 1493.29M728.11 1491.64 728.35 1491.55 730.62 1490.74 732.89 1489.92 735.17 1489.11 737.44 1488.3 739.71 1487.5 741.98 1486.69 742.12 1486.65M746.72 1485.03 746.78 1485 749.06 1484.21 751.33 1483.41 753.6 1482.62 755.88 1481.83 758.15 1481.05 760.42 1480.26 760.8 1480.13M765.43 1478.54 765.47 1478.53 767.74 1477.75 770.02 1476.97 772.29 1476.2 774.56 1475.43 776.84 1474.66 779.11 1473.9 779.59 1473.74M784.24 1472.18 784.41 1472.12 786.69 1471.36 788.96 1470.6 791.23 1469.85 793.51 1469.1 795.78 1468.35 798.05 1467.6 798.47 1467.46M803.15 1465.93 803.35 1465.86 805.63 1465.12 807.9 1464.38 810.17 1463.65 812.45 1462.91 814.72 1462.18 816.99 1461.45 817.45 1461.31M822.14 1459.81 822.3 1459.76 824.57 1459.03 826.84 1458.31 829.11 1457.59 831.39 1456.88 833.66 1456.16 835.93 1455.45 836.51 1455.27M841.24 1453.79 841.24 1453.79 843.51 1453.09 845.78 1452.38 848.06 1451.68 850.33 1450.98 852.6 1450.28 854.87 1449.59 855.68 1449.34M860.42 1447.9 860.43 1447.9 862.7 1447.21 864.98 1446.52 867.25 1445.83 869.52 1445.15 871.8 1444.47 874.07 1443.79 874.93 1443.53M879.69 1442.12 879.88 1442.06 882.15 1441.39 884.42 1440.72 886.7 1440.05 888.97 1439.38 891.24 1438.72 893.51 1438.05 894.27 1437.83M899.06 1436.45 899.07 1436.44 900.33 1436.08 901.6 1435.71 902.86 1435.35 904.12 1434.98 905.38 1434.62 906.65 1434.26 906.9 1434.19" fill="none" stroke="#7d4009" stroke-width="2.3" stroke-linejoin="round"/>
<path d="M401.8 1741 401.85 1741 403.26 1740.09 404.68 1738.23 406.09 1736.06 407.51 1733.86 408.92 1731.77 410.34 1729.81 410.59 1729.48M413.56 1725.82 413.57 1725.8 415.19 1723.99 416.8 1722.26 418.42 1720.59 420.03 1718.97 421.65 1717.38 423.27 1715.82 423.43 1715.66M426.78 1712.48 426.8 1712.46 428.52 1710.84 430.24 1709.23 431.95 1707.62 433.67 1706.01 435.39 1704.41 437.07 1702.84M440.45 1699.69 440.49 1699.65 441.05 1699.14 441.6 1698.62 442.16 1698.1 444.73 1695.7 447.51 1693.12 450.29 1690.53 450.77 1690.08M454.15 1686.94 454.33 1686.77 455.85 1685.36 457.36 1683.95 458.88 1682.54 460.39 1681.13 461.91 1679.72 463.42 1678.31 464.47 1677.34M467.85 1674.19 467.97 1674.08 469.48 1672.67 471 1671.26 472.51 1669.85 474.03 1668.44 475.54 1667.03 477.06 1665.62 478.17 1664.59M481.55 1661.44 481.61 1661.39 483.12 1659.98 484.64 1658.58 486.15 1657.17 487.67 1655.76 489.18 1654.35 490.7 1652.94 491.87 1651.84M495.26 1648.7 495.5 1648.48 497.01 1647.07 498.53 1645.66 500.04 1644.25 501.56 1642.84 503.07 1641.43 504.59 1640.02 505.58 1639.1M508.96 1635.96 509.13 1635.8 510.65 1634.39 512.16 1632.98 513.68 1631.57 515.19 1630.16 516.71 1628.76 518.23 1627.35 519.29 1626.36M522.67 1623.21 522.77 1623.12 524.29 1621.71 525.8 1620.31 527.32 1618.9 528.83 1617.49 530.35 1616.08 531.86 1614.67 533 1613.62M536.38 1610.48 536.41 1610.45 537.92 1609.04 539.44 1607.63 540.96 1606.23 542.47 1604.82 543.99 1603.41 545.5 1602 546.71 1600.88M550.09 1597.74 550.3 1597.55 551.81 1596.14 553.33 1594.73 554.85 1593.32 556.36 1591.92 557.88 1590.51 559.39 1589.1 560.42 1588.15M563.8 1585 563.94 1584.88 565.45 1583.47 566.97 1582.07 568.48 1580.66 570 1579.25 571.51 1577.85 573.03 1576.44 574.13 1575.42M577.52 1572.27 577.57 1572.22 579.09 1570.81 580.61 1569.41 582.12 1568 583.64 1566.59 585.15 1565.19 586.67 1563.78 587.85 1562.68M591.23 1559.54 591.47 1559.33 592.98 1557.92 594.5 1556.51 596.01 1555.11 597.53 1553.7 599.04 1552.3 600.56 1550.89 601.56 1549.95M604.95 1546.81 605.1 1546.67 606.62 1545.27 608.13 1543.86 609.65 1542.45 611.16 1541.05 612.68 1539.64 614.19 1538.24 615.28 1537.23M618.67 1534.09 618.74 1534.02 620.26 1532.61 621.77 1531.21 623.29 1529.8 624.8 1528.4 626.32 1526.99 627.83 1525.59 629 1524.5M632.39 1521.36 632.63 1521.14 634.15 1519.73 635.66 1518.33 637.18 1516.92 638.69 1515.52 640.21 1514.11 641.72 1512.71 642.72 1511.78M646.11 1508.64 646.27 1508.49 647.78 1507.09 649.3 1505.68 650.81 1504.28 652.33 1502.87 653.84 1501.47 655.36 1500.06 656.45 1499.06M659.83 1495.92 659.91 1495.85 661.42 1494.45 662.94 1493.04 664.45 1491.64 665.97 1490.23 667.48 1488.83 669 1487.43 670.17 1486.34M673.56 1483.2 673.8 1482.98 675.31 1481.58 676.83 1480.17 678.34 1478.77 679.86 1477.36 681.37 1475.96 682.89 1474.56 683.9 1473.62M687.29 1470.48 687.43 1470.35 688.95 1468.94 690.46 1467.54 691.98 1466.13 693.5 1464.73 695.01 1463.33 696.53 1461.92 697.63 1460.91M701.01 1457.77 701.07 1457.71 702.59 1456.31 704.1 1454.91 705.62 1453.5 707.13 1452.1 708.65 1450.7 710.16 1449.3 711.35 1448.19M714.74 1445.05 714.96 1444.85 716.48 1443.45 717.99 1442.05 719.51 1440.64 721.02 1439.24 722.54 1437.84 724.05 1436.44 725.09 1435.48M728.48 1432.34 728.6 1432.23 730.12 1430.83 731.63 1429.42 733.15 1428.02 734.66 1426.62 736.18 1425.22 737.69 1423.81 738.82 1422.77M742.21 1419.64 742.24 1419.61 743.75 1418.21 745.27 1416.8 746.78 1415.4 748.3 1414 749.81 1412.6 751.33 1411.2 752.55 1410.07M755.94 1406.93 756.13 1406.76 757.64 1405.36 759.16 1403.95 760.67 1402.55 762.19 1401.15 763.7 1399.75 765.22 1398.35 766.29 1397.36M769.68 1394.22 769.77 1394.14 771.28 1392.74 772.8 1391.34 774.31 1389.94 775.83 1388.54 777.34 1387.14 778.86 1385.74 780.03 1384.66M783.42 1381.52 783.66 1381.3 785.17 1379.9 786.69 1378.5 788.2 1377.1 789.72 1375.7 791.23 1374.3 792.75 1372.89 793.76 1371.95M797.16 1368.82 797.29 1368.69 798.81 1367.29 800.32 1365.89 801.84 1364.49 803.35 1363.09 804.87 1361.69 806.39 1360.29 807.5 1359.26M810.9 1356.12 810.93 1356.09 812.45 1354.69 813.96 1353.29 815.48 1351.89 816.99 1350.49 818.51 1349.09 820.02 1347.69 821.25 1346.56M824.64 1343.42 824.82 1343.26 826.34 1341.86 827.85 1340.46 829.37 1339.06 830.88 1337.66 832.4 1336.26 833.91 1334.86 834.99 1333.86M838.38 1330.73 838.46 1330.66 839.97 1329.26 841.49 1327.86 843 1326.46 844.52 1325.06 846.04 1323.66 847.55 1322.26 848.74 1321.17M852.13 1318.04 852.35 1317.83 853.86 1316.43 855.38 1315.03 856.9 1313.64 858.41 1312.24 859.93 1310.84 861.44 1309.44 862.48 1308.48M865.88 1305.35 865.99 1305.24 867.5 1303.84 869.02 1302.45 870.53 1301.05 872.05 1299.65 873.56 1298.25 875.08 1296.85 876.23 1295.79M879.62 1292.66 879.88 1292.42 881.39 1291.03 882.91 1289.63 884.42 1288.23 885.94 1286.83 887.45 1285.43 888.97 1284.03 889.98 1283.1M893.38 1279.97 893.51 1279.84 895.03 1278.44 896.55 1277.04 898.06 1275.65 899.58 1274.25 901.09 1272.85 902.61 1271.45 903.73 1270.42" fill="none" stroke="#1c1878" stroke-width="2.3" stroke-linejoin="round"/>
<g font-family="Liberation Sans, Arial, sans-serif">
<text x="49.11" y="591.4" font-size="26.8" fill="#383838" stroke="#383838" stroke-width="0.3" textLength="37.44" lengthAdjust="spacingAndGlyphs">0.0</text>
<text x="49.42" y="495.36" font-size="26.8" fill="#383838" stroke="#383838" stroke-width="0.3" textLength="37.44" lengthAdjust="spacingAndGlyphs">0.2</text>
<text x="48.85" y="399.32" font-size="26.8" fill="#383838" stroke="#383838" stroke-width="0.3" textLength="37.44" lengthAdjust="spacingAndGlyphs">0.4</text>
<text x="49.25" y="303.28" font-size="26.8" fill="#383838" stroke="#383838" stroke-width="0.3" textLength="37.44" lengthAdjust="spacingAndGlyphs">0.6</text>
<text x="49.23" y="207.24" font-size="26.8" fill="#383838" stroke="#383838" stroke-width="0.3" textLength="37.44" lengthAdjust="spacingAndGlyphs">0.8</text>
<text x="49.11" y="111.2" font-size="26.8" fill="#383838" stroke="#383838" stroke-width="0.3" textLength="37.44" lengthAdjust="spacingAndGlyphs">1.0</text>
<text x="92.81" y="614.1" font-size="26.8" fill="#383838" stroke="#383838" stroke-width="0.3" textLength="14.98" lengthAdjust="spacingAndGlyphs">0</text>
<text x="196.18" y="614.1" font-size="26.8" fill="#383838" stroke="#383838" stroke-width="0.3" textLength="44.93" lengthAdjust="spacingAndGlyphs">200</text>
<text x="315.05" y="614.1" font-size="26.8" fill="#383838" stroke="#383838" stroke-width="0.3" textLength="44.93" lengthAdjust="spacingAndGlyphs">400</text>
<text x="433.18" y="614.1" font-size="26.8" fill="#383838" stroke="#383838" stroke-width="0.3" textLength="44.93" lengthAdjust="spacingAndGlyphs">600</text>
<text x="551.77" y="614.1" font-size="26.8" fill="#383838" stroke="#383838" stroke-width="0.3" textLength="44.93" lengthAdjust="spacingAndGlyphs">800</text>
<text x="662.34" y="614.1" font-size="26.8" fill="#383838" stroke="#383838" stroke-width="0.3" textLength="59.91" lengthAdjust="spacingAndGlyphs">1000</text>
<text transform="translate(29.4 424.1) rotate(-90)" x="-0.14" y="0" font-size="35" stroke="#000" stroke-width="0.3" textLength="168.01" lengthAdjust="spacingAndGlyphs">Warming, K</text>
<text x="739.71" y="591.2" font-size="26.8" fill="#383838" stroke="#383838" stroke-width="0.3" textLength="37.44" lengthAdjust="spacingAndGlyphs">0.0</text>
<text x="740.02" y="495.14" font-size="26.8" fill="#383838" stroke="#383838" stroke-width="0.3" textLength="37.44" lengthAdjust="spacingAndGlyphs">0.2</text>
<text x="739.45" y="399.08" font-size="26.8" fill="#383838" stroke="#383838" stroke-width="0.3" textLength="37.44" lengthAdjust="spacingAndGlyphs">0.4</text>
<text x="739.85" y="303.02" font-size="26.8" fill="#383838" stroke="#383838" stroke-width="0.3" textLength="37.44" lengthAdjust="spacingAndGlyphs">0.6</text>
<text x="739.83" y="206.96" font-size="26.8" fill="#383838" stroke="#383838" stroke-width="0.3" textLength="37.44" lengthAdjust="spacingAndGlyphs">0.8</text>
<text x="739.71" y="110.9" font-size="26.8" fill="#383838" stroke="#383838" stroke-width="0.3" textLength="37.44" lengthAdjust="spacingAndGlyphs">1.0</text>
<text x="783.41" y="613.9" font-size="26.8" fill="#383838" stroke="#383838" stroke-width="0.3" textLength="14.98" lengthAdjust="spacingAndGlyphs">0</text>
<text x="887.06" y="613.9" font-size="26.8" fill="#383838" stroke="#383838" stroke-width="0.3" textLength="44.93" lengthAdjust="spacingAndGlyphs">200</text>
<text x="1006.21" y="613.9" font-size="26.8" fill="#383838" stroke="#383838" stroke-width="0.3" textLength="44.93" lengthAdjust="spacingAndGlyphs">400</text>
<text x="1124.62" y="613.9" font-size="26.8" fill="#383838" stroke="#383838" stroke-width="0.3" textLength="44.93" lengthAdjust="spacingAndGlyphs">600</text>
<text x="1243.49" y="613.9" font-size="26.8" fill="#383838" stroke="#383838" stroke-width="0.3" textLength="44.93" lengthAdjust="spacingAndGlyphs">800</text>
<text x="1354.34" y="613.9" font-size="26.8" fill="#383838" stroke="#383838" stroke-width="0.3" textLength="59.91" lengthAdjust="spacingAndGlyphs">1000</text>
<text x="49.31" y="1149.7" font-size="26.8" fill="#383838" stroke="#383838" stroke-width="0.3" textLength="37.44" lengthAdjust="spacingAndGlyphs">0.0</text>
<text x="49.62" y="1089.73" font-size="26.8" fill="#383838" stroke="#383838" stroke-width="0.3" textLength="37.44" lengthAdjust="spacingAndGlyphs">0.2</text>
<text x="49.05" y="1029.75" font-size="26.8" fill="#383838" stroke="#383838" stroke-width="0.3" textLength="37.44" lengthAdjust="spacingAndGlyphs">0.4</text>
<text x="49.45" y="969.77" font-size="26.8" fill="#383838" stroke="#383838" stroke-width="0.3" textLength="37.44" lengthAdjust="spacingAndGlyphs">0.6</text>
<text x="49.43" y="909.8" font-size="26.8" fill="#383838" stroke="#383838" stroke-width="0.3" textLength="37.44" lengthAdjust="spacingAndGlyphs">0.8</text>
<text x="49.31" y="849.82" font-size="26.8" fill="#383838" stroke="#383838" stroke-width="0.3" textLength="37.44" lengthAdjust="spacingAndGlyphs">1.0</text>
<text x="49.62" y="789.85" font-size="26.8" fill="#383838" stroke="#383838" stroke-width="0.3" textLength="37.44" lengthAdjust="spacingAndGlyphs">1.2</text>
<text x="49.05" y="729.88" font-size="26.8" fill="#383838" stroke="#383838" stroke-width="0.3" textLength="37.44" lengthAdjust="spacingAndGlyphs">1.4</text>
<text x="49.45" y="669.9" font-size="26.8" fill="#383838" stroke="#383838" stroke-width="0.3" textLength="37.44" lengthAdjust="spacingAndGlyphs">1.6</text>
<text x="93.01" y="1172.4" font-size="26.8" fill="#383838" stroke="#383838" stroke-width="0.3" textLength="14.98" lengthAdjust="spacingAndGlyphs">0</text>
<text x="196.38" y="1172.4" font-size="26.8" fill="#383838" stroke="#383838" stroke-width="0.3" textLength="44.93" lengthAdjust="spacingAndGlyphs">200</text>
<text x="315.25" y="1172.4" font-size="26.8" fill="#383838" stroke="#383838" stroke-width="0.3" textLength="44.93" lengthAdjust="spacingAndGlyphs">400</text>
<text x="433.38" y="1172.4" font-size="26.8" fill="#383838" stroke="#383838" stroke-width="0.3" textLength="44.93" lengthAdjust="spacingAndGlyphs">600</text>
<text x="551.97" y="1172.4" font-size="26.8" fill="#383838" stroke="#383838" stroke-width="0.3" textLength="44.93" lengthAdjust="spacingAndGlyphs">800</text>
<text x="662.54" y="1172.4" font-size="26.8" fill="#383838" stroke="#383838" stroke-width="0.3" textLength="59.91" lengthAdjust="spacingAndGlyphs">1000</text>
<text x="362.7" y="1210.4" font-size="33.2" stroke="#000" stroke-width="0.3" textLength="68.51" lengthAdjust="spacingAndGlyphs">Year</text>
<text transform="translate(29.6 982.6) rotate(-90)" x="-0.14" y="0" font-size="35" stroke="#000" stroke-width="0.3" textLength="168.01" lengthAdjust="spacingAndGlyphs">Warming, K</text>
<text x="739.61" y="1149.4" font-size="26.8" fill="#383838" stroke="#383838" stroke-width="0.3" textLength="37.44" lengthAdjust="spacingAndGlyphs">0.0</text>
<text x="739.69" y="1053.58" font-size="26.8" fill="#383838" stroke="#383838" stroke-width="0.3" textLength="37.44" lengthAdjust="spacingAndGlyphs">0.5</text>
<text x="739.61" y="957.76" font-size="26.8" fill="#383838" stroke="#383838" stroke-width="0.3" textLength="37.44" lengthAdjust="spacingAndGlyphs">1.0</text>
<text x="739.69" y="861.94" font-size="26.8" fill="#383838" stroke="#383838" stroke-width="0.3" textLength="37.44" lengthAdjust="spacingAndGlyphs">1.5</text>
<text x="739.61" y="766.12" font-size="26.8" fill="#383838" stroke="#383838" stroke-width="0.3" textLength="37.44" lengthAdjust="spacingAndGlyphs">2.0</text>
<text x="739.69" y="670.3" font-size="26.8" fill="#383838" stroke="#383838" stroke-width="0.3" textLength="37.44" lengthAdjust="spacingAndGlyphs">2.5</text>
<text x="783.31" y="1172.1" font-size="26.8" fill="#383838" stroke="#383838" stroke-width="0.3" textLength="14.98" lengthAdjust="spacingAndGlyphs">0</text>
<text x="886.94" y="1172.1" font-size="26.8" fill="#383838" stroke="#383838" stroke-width="0.3" textLength="44.93" lengthAdjust="spacingAndGlyphs">200</text>
<text x="1006.07" y="1172.1" font-size="26.8" fill="#383838" stroke="#383838" stroke-width="0.3" textLength="44.93" lengthAdjust="spacingAndGlyphs">400</text>
<text x="1124.46" y="1172.1" font-size="26.8" fill="#383838" stroke="#383838" stroke-width="0.3" textLength="44.93" lengthAdjust="spacingAndGlyphs">600</text>
<text x="1243.31" y="1172.1" font-size="26.8" fill="#383838" stroke="#383838" stroke-width="0.3" textLength="44.93" lengthAdjust="spacingAndGlyphs">800</text>
<text x="1354.14" y="1172.1" font-size="26.8" fill="#383838" stroke="#383838" stroke-width="0.3" textLength="59.91" lengthAdjust="spacingAndGlyphs">1000</text>
<text x="1053.65" y="1210.1" font-size="33.2" stroke="#000" stroke-width="0.3" textLength="68.51" lengthAdjust="spacingAndGlyphs">Year</text>
<text x="350.91" y="1751.9" font-size="26.8" fill="#383838" stroke="#383838" stroke-width="0.3" textLength="37.44" lengthAdjust="spacingAndGlyphs">0.0</text>
<text x="350.99" y="1656.24" font-size="26.8" fill="#383838" stroke="#383838" stroke-width="0.3" textLength="37.44" lengthAdjust="spacingAndGlyphs">0.5</text>
<text x="350.91" y="1560.58" font-size="26.8" fill="#383838" stroke="#383838" stroke-width="0.3" textLength="37.44" lengthAdjust="spacingAndGlyphs">1.0</text>
<text x="350.99" y="1464.92" font-size="26.8" fill="#383838" stroke="#383838" stroke-width="0.3" textLength="37.44" lengthAdjust="spacingAndGlyphs">1.5</text>
<text x="350.91" y="1369.26" font-size="26.8" fill="#383838" stroke="#383838" stroke-width="0.3" textLength="37.44" lengthAdjust="spacingAndGlyphs">2.0</text>
<text x="350.99" y="1273.6" font-size="26.8" fill="#383838" stroke="#383838" stroke-width="0.3" textLength="37.44" lengthAdjust="spacingAndGlyphs">2.5</text>
<text x="394.61" y="1774.6" font-size="26.8" fill="#383838" stroke="#383838" stroke-width="0.3" textLength="14.98" lengthAdjust="spacingAndGlyphs">0</text>
<text x="480.5" y="1774.6" font-size="26.8" fill="#383838" stroke="#383838" stroke-width="0.3" textLength="44.93" lengthAdjust="spacingAndGlyphs">200</text>
<text x="581.89" y="1774.6" font-size="26.8" fill="#383838" stroke="#383838" stroke-width="0.3" textLength="44.93" lengthAdjust="spacingAndGlyphs">400</text>
<text x="682.54" y="1774.6" font-size="26.8" fill="#383838" stroke="#383838" stroke-width="0.3" textLength="44.93" lengthAdjust="spacingAndGlyphs">600</text>
<text x="783.65" y="1774.6" font-size="26.8" fill="#383838" stroke="#383838" stroke-width="0.3" textLength="44.93" lengthAdjust="spacingAndGlyphs">800</text>
<text x="876.74" y="1774.6" font-size="26.8" fill="#383838" stroke="#383838" stroke-width="0.3" textLength="59.91" lengthAdjust="spacingAndGlyphs">1000</text>
<text x="747.15" y="1812.6" font-size="33.2" stroke="#000" stroke-width="0.3" textLength="68.51" lengthAdjust="spacingAndGlyphs">Year</text>
<text transform="translate(331.2 1585.55) rotate(-90)" x="-0.14" y="0" font-size="35" stroke="#000" stroke-width="0.3" textLength="168.01" lengthAdjust="spacingAndGlyphs">Warming, K</text>
<text x="478.11" y="40.2" font-size="46.5" textLength="509.93" lengthAdjust="spacingAndGlyphs">Perpetual consumption</text>
<text x="120.93" y="122" font-size="32.8" font-weight="bold" textLength="25.3" lengthAdjust="spacingAndGlyphs">A</text>
<text x="163.69" y="123.7" font-size="44" textLength="327.66" lengthAdjust="spacingAndGlyphs">Brazilian pasture</text>
<text x="818.34" y="121.4" font-size="32.8" font-weight="bold" textLength="23.33" lengthAdjust="spacingAndGlyphs">B</text>
<text x="862.92" y="124" font-size="44" textLength="206.96" lengthAdjust="spacingAndGlyphs">Cultured-c</text>
<text x="119.71" y="675.8" font-size="32.8" font-weight="bold" textLength="24.52" lengthAdjust="spacingAndGlyphs">C</text>
<text x="160.91" y="671.5" font-size="44" textLength="282.14" lengthAdjust="spacingAndGlyphs">Cattle systems</text>
<text x="817.04" y="676.5" font-size="32.8" font-weight="bold" textLength="24.38" lengthAdjust="spacingAndGlyphs">D</text>
<text x="862.99" y="671.5" font-size="44" textLength="335.47" lengthAdjust="spacingAndGlyphs">Cultured systems</text>
<text x="438.88" y="1264.7" font-size="32.8" font-weight="bold" textLength="21.16" lengthAdjust="spacingAndGlyphs">E</text>
<text x="489.92" y="1266.7" font-size="44" textLength="216.43" lengthAdjust="spacingAndGlyphs">All systems</text>
<text transform="translate(518.2 165.2) rotate(-9)" x="-1.36" y="0" font-size="30.5" stroke="#000" stroke-width="0.35" textLength="61.64" lengthAdjust="spacingAndGlyphs">Sum</text>
<text transform="translate(1217.8 310.3) rotate(-28)" x="-1.39" y="0" font-size="30.5" stroke="#000" stroke-width="0.35">Sum</text>
<text transform="translate(432.6 760.8) rotate(-23.2)" x="-2.41" y="0" font-size="29.5" fill="#7d4009" stroke="#7d4009" stroke-width="0.35" textLength="192.07" lengthAdjust="spacingAndGlyphs">Mid-West USA</text>
<text transform="translate(512.8 877.3) rotate(-5.8)" x="-2.45" y="0" font-size="29.5" fill="#c8701f" stroke="#c8701f" stroke-width="0.35" textLength="74.54" lengthAdjust="spacingAndGlyphs">Brazil</text>
<text transform="translate(493.8 961.9) rotate(-6.8)" x="-1.35" y="0" font-size="29.5" fill="#ee811d" stroke="#ee811d" stroke-width="0.35" textLength="107.69" lengthAdjust="spacingAndGlyphs">Sweden</text>
<text transform="translate(1193.6 808) rotate(-41.3)" x="-1.48" y="0" font-size="29.5" fill="#1c1878" stroke="#1c1878" stroke-width="0.35" textLength="136.37" lengthAdjust="spacingAndGlyphs">Cultured-d</text>
<text transform="translate(1173.3 1042) rotate(-12.3)" x="-1.49" y="0" font-size="29.5" fill="#4a3ac8" stroke="#4a3ac8" stroke-width="0.35" textLength="135.57" lengthAdjust="spacingAndGlyphs">Cultured-c</text>
<text transform="translate(1171.6 1086) rotate(-7.6)" x="-1.49" y="0" font-size="29.5" fill="#604cec" stroke="#604cec" stroke-width="0.35" textLength="136.72" lengthAdjust="spacingAndGlyphs">Cultured-b</text>
<text transform="translate(1171 1112.9) rotate(-5)" x="-1.48" y="0" font-size="29.5" fill="#6d5dfb" stroke="#6d5dfb" stroke-width="0.35" textLength="136.48" lengthAdjust="spacingAndGlyphs">Cultured-a</text>
<text transform="translate(913.4 1286.4) rotate(0)" x="0" y="0" font-size="29.5" fill="#1c1878" stroke="#1c1878" stroke-width="0.35" textLength="138.28" lengthAdjust="spacingAndGlyphs">Cultured-d</text>
<text transform="translate(915.2 1445.8) rotate(0)" x="0" y="0" font-size="29.5" fill="#7d4009" stroke="#7d4009" stroke-width="0.35" textLength="193.65" lengthAdjust="spacingAndGlyphs">Mid-West USA</text>
<text transform="translate(913.4 1574.3) rotate(0)" x="0" y="0" font-size="29.5" fill="#c8701f" stroke="#c8701f" stroke-width="0.35" textLength="74.06" lengthAdjust="spacingAndGlyphs">Brazil</text>
<text transform="translate(913.4 1604) rotate(0)" x="0" y="0" font-size="29.5" fill="#4a3ac8" stroke="#4a3ac8" stroke-width="0.35" textLength="136.62" lengthAdjust="spacingAndGlyphs">Cultured-c</text>
<text transform="translate(913.4 1628.9) rotate(0)" x="0" y="0" font-size="29.5" fill="#ee811d" stroke="#ee811d" stroke-width="0.35" textLength="107.03" lengthAdjust="spacingAndGlyphs">Sweden</text>
<text transform="translate(913.4 1670.7) rotate(0)" x="0" y="0" font-size="29.5" fill="#604cec" stroke="#604cec" stroke-width="0.35" textLength="138.28" lengthAdjust="spacingAndGlyphs">Cultured-b</text>
<text transform="translate(913.4 1713.1) rotate(0)" x="0" y="0" font-size="29.5" fill="#6d5dfb" stroke="#6d5dfb" stroke-width="0.35" textLength="138.28" lengthAdjust="spacingAndGlyphs">Cultured-a</text>
<text transform="translate(523.5 313.3) rotate(-5)" x="-1.55" y="0" font-size="30.5" fill="#00c000" stroke="#00c000" stroke-width="0.35">CH<tspan dx="-0.88" dy="5.4" font-size="21.35">4</tspan></text>
<text transform="translate(523.3 442) rotate(-2.5)" x="-2.5" y="0" font-size="30.5" fill="#0000ff" stroke="#0000ff" stroke-width="0.35">N<tspan dx="-1.46" dy="5.4" font-size="21.35">2</tspan><tspan dx="-0.42" dy="-5.4" font-size="30.5">O</tspan></text>
<text transform="translate(522.3 533) rotate(-4)" x="-1.55" y="0" font-size="30.5" fill="#ff0000" stroke="#ff0000" stroke-width="0.35">CO<tspan dx="-0.43" dy="5.4" font-size="21.35">2</tspan></text>
<text transform="translate(1221.1 363.9) rotate(-26)" x="-1.55" y="0" font-size="30.5" fill="#ff0000" stroke="#ff0000" stroke-width="0.35">CO<tspan dx="-0.43" dy="5.4" font-size="21.35">2</tspan></text>
<text transform="translate(1184.8 560.5) rotate(0)" x="-1.55" y="0" font-size="30.5" fill="#00c000" stroke="#00c000" stroke-width="0.35">CH<tspan dx="-0.88" dy="5.4" font-size="21.35">4</tspan></text>
<text transform="translate(1249.1 560.5) rotate(0)" x="-2.5" y="0" font-size="30.5" fill="#0000ff" stroke="#0000ff" stroke-width="0.35">N<tspan dx="-1.46" dy="5.4" font-size="21.35">2</tspan><tspan dx="-0.42" dy="-5.4" font-size="30.5">O</tspan></text>
</g>
</svg>
</body></html>
